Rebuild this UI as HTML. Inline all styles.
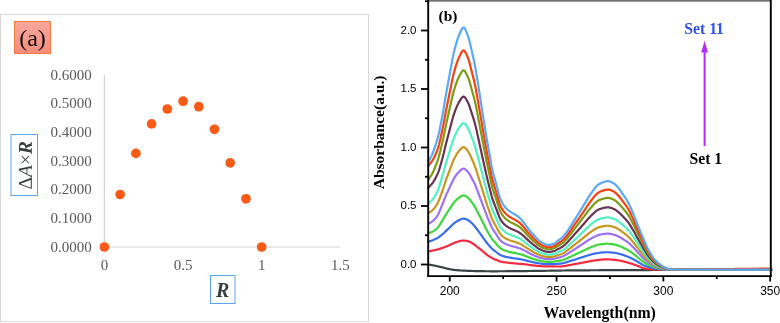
<!DOCTYPE html>
<html><head><meta charset="utf-8"><style>
html,body{margin:0;padding:0;background:#fff;}
svg{display:block;will-change:transform;}
</style></head><body>
<svg width="780" height="323" viewBox="0 0 780 323">
<defs><linearGradient id="ga" x1="0" y1="0" x2="0" y2="1"><stop offset="0" stop-color="#f9a89c"/><stop offset="1" stop-color="#f48d7c"/></linearGradient></defs>
<rect x="0" y="0" width="780" height="323" fill="#fff"/>
<!-- left panel -->
<rect x="0.5" y="14.5" width="368" height="307" fill="none" stroke="#d9d9d9" stroke-width="1"/>
<rect x="14.5" y="21.5" width="36" height="32" fill="url(#ga)" stroke="#f47a3a" stroke-width="1"/>
<text x="32.5" y="46" font-family="'Liberation Serif', serif" font-size="24" text-anchor="middle" fill="#111">(a)</text>
<g stroke="#d0d4d6" stroke-width="1.2">
<line x1="104.4" y1="75" x2="104.4" y2="247"/>
<line x1="104.4" y1="247" x2="340" y2="247"/>
</g>
<g font-family="'Liberation Serif', serif" font-size="15" fill="#595959" text-anchor="end">
<text x="91.7" y="251.7">0.0000</text>
<text x="91.7" y="223.0">0.1000</text>
<text x="91.7" y="194.3">0.2000</text>
<text x="91.7" y="165.6">0.3000</text>
<text x="91.7" y="136.9">0.4000</text>
<text x="91.7" y="108.2">0.5000</text>
<text x="91.7" y="79.5">0.6000</text>
</g>
<g font-family="'Liberation Serif', serif" font-size="15" fill="#595959" text-anchor="middle">
<text x="104.4" y="269.6">0</text>
<text x="183.1" y="269.6">0.5</text>
<text x="261.7" y="269.6">1</text>
<text x="340.4" y="269.6">1.5</text>
</g>
<g fill="#f95a16">
<circle cx="104.4" cy="247.0" r="4.85"/>
<circle cx="120.1" cy="194.5" r="4.85"/>
<circle cx="135.9" cy="153.4" r="4.85"/>
<circle cx="151.6" cy="123.9" r="4.85"/>
<circle cx="167.3" cy="109.0" r="4.85"/>
<circle cx="183.1" cy="101.2" r="4.85"/>
<circle cx="198.8" cy="106.7" r="4.85"/>
<circle cx="214.5" cy="129.3" r="4.85"/>
<circle cx="230.2" cy="162.9" r="4.85"/>
<circle cx="246.0" cy="198.8" r="4.85"/>
<circle cx="261.7" cy="247.0" r="4.85"/>
</g>
<rect x="11" y="134.5" width="26.5" height="61" fill="none" stroke="#5aa5f0" stroke-width="1"/>
<path transform="translate(31.8,189.6) rotate(-90)" fill="#363d3d" d="M11.81 0H0.75L0.74 -0.76L5.28 -12.87H7.09L11.81 -0.76ZM5.77 -11.39 1.96 -1.04H9.64Z M15.05 -0.5 14.96 0H11.47L11.57 -0.5L12.64 -0.76L19.13 -12.87H20.95L23.33 -0.76L24.52 -0.5L24.41 0H19.89L20 -0.5L21.36 -0.76L20.75 -4.45H15.72L13.77 -0.76ZM19.42 -11.5 16.15 -5.3H20.59Z M29.95 -5.79 26.67 -2.51 25.99 -3.2 29.27 -6.49 25.99 -9.75 26.7 -10.45 29.95 -7.18 33.25 -10.45 33.93 -9.77 30.65 -6.49 33.93 -3.2 33.25 -2.51Z M40.7 -5.41 39.91 -0.95 41.5 -0.7 41.39 0H35.42L35.53 -0.7L37.1 -0.95L39.01 -11.83L37.42 -12.07L37.54 -12.77H42.64Q45.13 -12.77 46.33 -11.98Q47.53 -11.19 47.53 -9.55Q47.53 -8.06 46.73 -7.07Q45.92 -6.08 44.4 -5.67L46.31 -0.95L47.71 -0.7L47.6 0H43.79L41.81 -5.41ZM41.41 -6.46Q42.97 -6.46 43.86 -7.23Q44.74 -8.01 44.74 -9.4Q44.74 -10.64 44.17 -11.18Q43.59 -11.72 42.48 -11.72H41.82L40.89 -6.46Z"/>
<rect x="210.5" y="275.5" width="24.5" height="28" fill="none" stroke="#5aa5f0" stroke-width="1"/>
<text x="222.6" y="296.6" font-family="'Liberation Serif', serif" font-size="20" font-style="italic" font-weight="bold" text-anchor="middle" fill="#363d3d">R</text>
<!-- right chart -->
<g fill="none" stroke-width="2.2" stroke-linejoin="round" stroke-linecap="round">
<path d="M428.40 264.50 L428.93 264.59 L429.47 264.68 L430.00 264.77 L430.54 264.86 L431.07 264.96 L431.60 265.06 L432.14 265.16 L432.67 265.26 L433.21 265.36 L433.74 265.46 L434.27 265.56 L434.81 265.67 L435.34 265.78 L435.88 265.89 L436.41 266.00 L436.94 266.11 L437.48 266.23 L438.01 266.34 L438.55 266.46 L439.08 266.58 L439.61 266.70 L440.15 266.82 L440.68 266.95 L441.22 267.07 L441.75 267.20 L442.28 267.34 L442.82 267.48 L443.35 267.62 L443.89 267.77 L444.42 267.91 L444.95 268.06 L445.49 268.20 L446.02 268.33 L446.56 268.47 L447.09 268.59 L447.62 268.71 L448.16 268.83 L448.69 268.94 L449.23 269.05 L449.76 269.16 L450.29 269.27 L450.83 269.38 L451.36 269.48 L451.90 269.57 L452.43 269.66 L452.96 269.74 L453.50 269.82 L454.03 269.88 L454.57 269.94 L455.10 270.00 L455.63 270.06 L456.17 270.11 L456.70 270.16 L457.24 270.21 L457.77 270.26 L458.30 270.30 L458.84 270.34 L459.37 270.38 L459.91 270.42 L460.44 270.46 L460.97 270.49 L461.51 270.52 L462.04 270.56 L462.58 270.58 L463.11 270.61 L463.64 270.64 L464.18 270.66 L464.71 270.69 L465.25 270.71 L465.78 270.74 L466.31 270.76 L466.85 270.78 L467.38 270.81 L467.92 270.83 L468.45 270.85 L468.98 270.87 L469.52 270.89 L470.05 270.91 L470.59 270.92 L471.12 270.94 L471.65 270.96 L472.19 270.97 L472.72 270.99 L473.26 271.00 L473.79 271.02 L474.32 271.03 L474.86 271.04 L475.39 271.05 L475.93 271.06 L476.46 271.07 L476.99 271.08 L477.53 271.10 L478.06 271.11 L478.60 271.12 L479.13 271.13 L479.66 271.14 L480.20 271.15 L480.73 271.16 L481.27 271.17 L481.80 271.18 L482.33 271.19 L482.87 271.20 L483.40 271.20 L483.94 271.21 L484.47 271.22 L485.00 271.23 L485.54 271.24 L486.07 271.24 L486.61 271.25 L487.14 271.26 L487.67 271.26 L488.21 271.27 L488.74 271.27 L489.28 271.27 L489.81 271.28 L490.34 271.28 L490.88 271.28 L491.41 271.28 L491.95 271.29 L492.48 271.29 L493.01 271.29 L493.55 271.29 L494.08 271.29 L494.62 271.28 L495.15 271.28 L495.68 271.28 L496.22 271.28 L496.75 271.28 L497.29 271.28 L497.82 271.28 L498.35 271.27 L498.89 271.27 L499.42 271.27 L499.96 271.27 L500.49 271.26 L501.02 271.26 L501.56 271.26 L502.09 271.25 L502.63 271.25 L503.16 271.25 L503.69 271.24 L504.23 271.24 L504.76 271.24 L505.30 271.23 L505.83 271.23 L506.36 271.22 L506.90 271.22 L507.43 271.21 L507.97 271.21 L508.50 271.21 L509.03 271.20 L509.57 271.20 L510.10 271.19 L510.64 271.19 L511.17 271.18 L511.70 271.18 L512.24 271.17 L512.77 271.17 L513.31 271.16 L513.84 271.16 L514.37 271.15 L514.91 271.15 L515.44 271.14 L515.98 271.14 L516.51 271.13 L517.04 271.12 L517.58 271.12 L518.11 271.11 L518.65 271.11 L519.18 271.10 L519.71 271.10 L520.25 271.09 L520.78 271.09 L521.32 271.08 L521.85 271.08 L522.38 271.07 L522.92 271.07 L523.45 271.06 L523.99 271.06 L524.52 271.05 L525.05 271.05 L525.59 271.04 L526.12 271.04 L526.66 271.03 L527.19 271.03 L527.72 271.02 L528.26 271.01 L528.79 271.01 L529.33 271.00 L529.86 271.00 L530.39 270.99 L530.93 270.98 L531.46 270.98 L532.00 270.97 L532.53 270.96 L533.06 270.96 L533.60 270.95 L534.13 270.94 L534.67 270.93 L535.20 270.93 L535.73 270.92 L536.27 270.91 L536.80 270.91 L537.34 270.90 L537.87 270.89 L538.40 270.88 L538.94 270.87 L539.47 270.87 L540.01 270.86 L540.54 270.85 L541.07 270.84 L541.61 270.83 L542.14 270.83 L542.68 270.82 L543.21 270.81 L543.74 270.80 L544.28 270.79 L544.81 270.78 L545.35 270.78 L545.88 270.77 L546.41 270.76 L546.95 270.75 L547.48 270.74 L548.02 270.73 L548.55 270.73 L549.08 270.72 L549.62 270.71 L550.15 270.70 L550.69 270.69 L551.22 270.68 L551.75 270.67 L552.29 270.67 L552.82 270.66 L553.36 270.65 L553.89 270.64 L554.42 270.63 L554.96 270.62 L555.49 270.62 L556.03 270.61 L556.56 270.60 L557.09 270.59 L557.63 270.58 L558.16 270.58 L558.70 270.57 L559.23 270.56 L559.76 270.55 L560.30 270.54 L560.83 270.54 L561.37 270.53 L561.90 270.52 L562.43 270.51 L562.97 270.51 L563.50 270.50 L564.04 270.49 L564.57 270.49 L565.10 270.48 L565.64 270.47 L566.17 270.47 L566.71 270.46 L567.24 270.45 L567.77 270.45 L568.31 270.44 L568.84 270.43 L569.38 270.43 L569.91 270.42 L570.44 270.42 L570.98 270.41 L571.51 270.40 L572.05 270.40 L572.58 270.39 L573.11 270.39 L573.65 270.38 L574.18 270.38 L574.72 270.37 L575.25 270.37 L575.78 270.37 L576.32 270.36 L576.85 270.36 L577.39 270.35 L577.92 270.35 L578.45 270.35 L578.99 270.34 L579.52 270.34 L580.06 270.34 L580.59 270.33 L581.12 270.33 L581.66 270.33 L582.19 270.32 L582.73 270.32 L583.26 270.32 L583.79 270.31 L584.33 270.31 L584.86 270.31 L585.40 270.30 L585.93 270.30 L586.46 270.30 L587.00 270.29 L587.53 270.29 L588.07 270.29 L588.60 270.28 L589.13 270.28 L589.67 270.28 L590.20 270.27 L590.74 270.27 L591.27 270.27 L591.80 270.27 L592.34 270.26 L592.87 270.26 L593.41 270.26 L593.94 270.25 L594.47 270.25 L595.01 270.25 L595.54 270.24 L596.08 270.24 L596.61 270.24 L597.14 270.24 L597.68 270.23 L598.21 270.23 L598.75 270.23 L599.28 270.22 L599.81 270.22 L600.35 270.22 L600.88 270.22 L601.42 270.21 L601.95 270.21 L602.48 270.21 L603.02 270.20 L603.55 270.20 L604.09 270.20 L604.62 270.20 L605.15 270.19 L605.69 270.19 L606.22 270.19 L606.76 270.19 L607.29 270.18 L607.82 270.18 L608.36 270.18 L608.89 270.18 L609.43 270.17 L609.96 270.17 L610.49 270.17 L611.03 270.17 L611.56 270.16 L612.10 270.16 L612.63 270.16 L613.16 270.16 L613.70 270.15 L614.23 270.15 L614.77 270.15 L615.30 270.15 L615.83 270.14 L616.37 270.14 L616.90 270.14 L617.44 270.14 L617.97 270.13 L618.50 270.13 L619.04 270.13 L619.57 270.13 L620.11 270.13 L620.64 270.12 L621.17 270.12 L621.71 270.12 L622.24 270.12 L622.78 270.11 L623.31 270.11 L623.84 270.11 L624.38 270.11 L624.91 270.11 L625.45 270.10 L625.98 270.10 L626.51 270.10 L627.05 270.10 L627.58 270.10 L628.12 270.09 L628.65 270.09 L629.18 270.09 L629.72 270.09 L630.25 270.09 L630.79 270.08 L631.32 270.08 L631.85 270.08 L632.39 270.08 L632.92 270.08 L633.46 270.08 L633.99 270.07 L634.52 270.07 L635.06 270.07 L635.59 270.07 L636.13 270.07 L636.66 270.07 L637.19 270.06 L637.73 270.06 L638.26 270.06 L638.80 270.06 L639.33 270.06 L639.86 270.06 L640.40 270.05 L640.93 270.05 L641.47 270.05 L642.00 270.05 L642.53 270.05 L643.07 270.05 L643.60 270.04 L644.14 270.04 L644.67 270.04 L645.20 270.04 L645.74 270.04 L646.27 270.04 L646.81 270.04 L647.34 270.03 L647.87 270.03 L648.41 270.03 L648.94 270.03 L649.48 270.03 L650.01 270.03 L650.54 270.03 L651.08 270.02 L651.61 270.02 L652.15 270.02 L652.68 270.02 L653.21 270.02 L653.75 270.02 L654.28 270.02 L654.82 270.02 L655.35 270.01 L655.88 270.01 L656.42 270.01 L656.95 270.01 L657.49 270.01 L658.02 270.01 L658.55 270.01 L659.09 270.01 L659.62 270.01 L660.16 270.00 L660.69 270.00 L661.22 270.00 L661.76 270.00 L662.29 270.00 L662.83 270.00 L663.36 270.00 L663.89 270.00 L664.43 270.00 L664.96 270.00 L665.50 270.00 L666.03 269.99 L666.56 269.99 L667.10 269.99 L667.63 269.99 L668.17 269.99 L668.70 269.99 L669.23 269.99 L669.77 269.99 L670.30 269.99 L670.84 269.99 L671.37 269.99 L671.90 269.98 L672.44 269.98 L672.97 269.98 L673.51 269.98 L674.04 269.98 L674.57 269.98 L675.11 269.98 L675.64 269.98 L676.18 269.98 L676.71 269.98 L677.24 269.98 L677.78 269.97 L678.31 269.97 L678.85 269.97 L679.38 269.97 L679.91 269.97 L680.45 269.97 L680.98 269.97 L681.52 269.97 L682.05 269.97 L682.58 269.97 L683.12 269.97 L683.65 269.96 L684.19 269.96 L684.72 269.96 L685.25 269.96 L685.79 269.96 L686.32 269.96 L686.86 269.96 L687.39 269.96 L687.92 269.96 L688.46 269.96 L688.99 269.96 L689.53 269.96 L690.06 269.95 L690.59 269.95 L691.13 269.95 L691.66 269.95 L692.20 269.95 L692.73 269.95 L693.26 269.95 L693.80 269.95 L694.33 269.95 L694.87 269.95 L695.40 269.95 L695.93 269.95 L696.47 269.94 L697.00 269.94 L697.54 269.94 L698.07 269.94 L698.60 269.94 L699.14 269.94 L699.67 269.94 L700.21 269.94 L700.74 269.94 L701.27 269.94 L701.81 269.94 L702.34 269.94 L702.88 269.94 L703.41 269.93 L703.94 269.93 L704.48 269.93 L705.01 269.93 L705.55 269.93 L706.08 269.93 L706.61 269.93 L707.15 269.93 L707.68 269.93 L708.22 269.93 L708.75 269.93 L709.28 269.93 L709.82 269.93 L710.35 269.93 L710.89 269.92 L711.42 269.92 L711.95 269.92 L712.49 269.92 L713.02 269.92 L713.56 269.92 L714.09 269.92 L714.62 269.92 L715.16 269.92 L715.69 269.92 L716.23 269.92 L716.76 269.92 L717.29 269.92 L717.83 269.92 L718.36 269.92 L718.90 269.91 L719.43 269.91 L719.96 269.91 L720.50 269.91 L721.03 269.91 L721.57 269.91 L722.10 269.91 L722.63 269.91 L723.17 269.91 L723.70 269.91 L724.24 269.91 L724.77 269.91 L725.30 269.91 L725.84 269.91 L726.37 269.91 L726.91 269.91 L727.44 269.91 L727.97 269.91 L728.51 269.90 L729.04 269.90 L729.58 269.90 L730.11 269.90 L730.64 269.90 L731.18 269.90 L731.71 269.90 L732.25 269.90 L732.78 269.90 L733.31 269.90 L733.85 269.90 L734.38 269.90 L734.92 269.90 L735.45 269.90 L735.98 269.90 L736.52 269.90 L737.05 269.90 L737.59 269.90 L738.12 269.90 L738.65 269.90 L739.19 269.90 L739.72 269.89 L740.26 269.89 L740.79 269.89 L741.32 269.89 L741.86 269.89 L742.39 269.89 L742.93 269.89 L743.46 269.89 L743.99 269.89 L744.53 269.89 L745.06 269.89 L745.60 269.89 L746.13 269.89 L746.66 269.89 L747.20 269.89 L747.73 269.89 L748.27 269.89 L748.80 269.89 L749.33 269.89 L749.87 269.89 L750.40 269.89 L750.94 269.89 L751.47 269.89 L752.00 269.89 L752.54 269.89 L753.07 269.89 L753.61 269.89 L754.14 269.89 L754.67 269.89 L755.21 269.89 L755.74 269.89 L756.28 269.88 L756.81 269.88 L757.34 269.88 L757.88 269.88 L758.41 269.88 L758.95 269.88 L759.48 269.88 L760.01 269.88 L760.55 269.88 L761.08 269.88 L761.62 269.88 L762.15 269.88 L762.68 269.88 L763.22 269.88 L763.75 269.88 L764.29 269.88 L764.82 269.88 L765.35 269.88 L765.89 269.88 L766.42 269.88 L766.96 269.88 L767.49 269.88 L768.02 269.88 L768.56 269.88 L769.09 269.88 L769.63 269.88 L770.16 269.88 L770.69 269.88 L771.23 269.88" stroke="#3a4444"/>
<path d="M428.40 251.40 L428.93 251.32 L429.47 251.23 L430.00 251.14 L430.54 251.05 L431.07 250.95 L431.60 250.84 L432.14 250.74 L432.67 250.63 L433.21 250.52 L433.74 250.40 L434.27 250.28 L434.81 250.16 L435.34 250.03 L435.88 249.90 L436.41 249.77 L436.94 249.62 L437.48 249.47 L438.01 249.32 L438.55 249.17 L439.08 249.01 L439.61 248.84 L440.15 248.67 L440.68 248.50 L441.22 248.33 L441.75 248.16 L442.28 247.98 L442.82 247.79 L443.35 247.60 L443.89 247.41 L444.42 247.21 L444.95 247.01 L445.49 246.81 L446.02 246.60 L446.56 246.38 L447.09 246.17 L447.62 245.95 L448.16 245.74 L448.69 245.52 L449.23 245.29 L449.76 245.06 L450.29 244.81 L450.83 244.55 L451.36 244.29 L451.90 244.02 L452.43 243.76 L452.96 243.50 L453.50 243.24 L454.03 243.00 L454.57 242.77 L455.10 242.56 L455.63 242.37 L456.17 242.20 L456.70 242.04 L457.24 241.86 L457.77 241.69 L458.30 241.53 L458.84 241.36 L459.37 241.21 L459.91 241.07 L460.44 240.94 L460.97 240.83 L461.51 240.75 L462.04 240.68 L462.58 240.64 L463.11 240.63 L463.64 240.64 L464.18 240.65 L464.71 240.68 L465.25 240.70 L465.78 240.74 L466.31 240.78 L466.85 240.87 L467.38 241.00 L467.92 241.17 L468.45 241.37 L468.98 241.58 L469.52 241.82 L470.05 242.05 L470.59 242.29 L471.12 242.54 L471.65 242.82 L472.19 243.14 L472.72 243.47 L473.26 243.83 L473.79 244.20 L474.32 244.60 L474.86 245.00 L475.39 245.41 L475.93 245.83 L476.46 246.26 L476.99 246.68 L477.53 247.11 L478.06 247.52 L478.60 247.93 L479.13 248.33 L479.66 248.74 L480.20 249.16 L480.73 249.58 L481.27 250.02 L481.80 250.46 L482.33 250.91 L482.87 251.36 L483.40 251.82 L483.94 252.27 L484.47 252.72 L485.00 253.17 L485.54 253.61 L486.07 254.04 L486.61 254.47 L487.14 254.88 L487.67 255.28 L488.21 255.66 L488.74 256.03 L489.28 256.38 L489.81 256.71 L490.34 257.03 L490.88 257.33 L491.41 257.61 L491.95 257.89 L492.48 258.16 L493.01 258.42 L493.55 258.67 L494.08 258.92 L494.62 259.16 L495.15 259.40 L495.68 259.63 L496.22 259.87 L496.75 260.10 L497.29 260.34 L497.82 260.57 L498.35 260.79 L498.89 260.99 L499.42 261.18 L499.96 261.34 L500.49 261.48 L501.02 261.62 L501.56 261.74 L502.09 261.85 L502.63 261.96 L503.16 262.05 L503.69 262.14 L504.23 262.23 L504.76 262.31 L505.30 262.38 L505.83 262.46 L506.36 262.53 L506.90 262.59 L507.43 262.66 L507.97 262.72 L508.50 262.78 L509.03 262.84 L509.57 262.90 L510.10 262.96 L510.64 263.01 L511.17 263.07 L511.70 263.12 L512.24 263.17 L512.77 263.22 L513.31 263.28 L513.84 263.33 L514.37 263.38 L514.91 263.43 L515.44 263.48 L515.98 263.53 L516.51 263.57 L517.04 263.61 L517.58 263.66 L518.11 263.70 L518.65 263.74 L519.18 263.78 L519.71 263.82 L520.25 263.87 L520.78 263.91 L521.32 263.95 L521.85 264.00 L522.38 264.04 L522.92 264.09 L523.45 264.14 L523.99 264.19 L524.52 264.24 L525.05 264.30 L525.59 264.36 L526.12 264.43 L526.66 264.50 L527.19 264.57 L527.72 264.65 L528.26 264.73 L528.79 264.81 L529.33 264.89 L529.86 264.97 L530.39 265.05 L530.93 265.13 L531.46 265.21 L532.00 265.29 L532.53 265.36 L533.06 265.43 L533.60 265.50 L534.13 265.56 L534.67 265.62 L535.20 265.67 L535.73 265.72 L536.27 265.77 L536.80 265.81 L537.34 265.86 L537.87 265.91 L538.40 265.95 L538.94 266.00 L539.47 266.04 L540.01 266.09 L540.54 266.13 L541.07 266.16 L541.61 266.20 L542.14 266.23 L542.68 266.26 L543.21 266.29 L543.74 266.32 L544.28 266.34 L544.81 266.35 L545.35 266.37 L545.88 266.38 L546.41 266.38 L546.95 266.39 L547.48 266.40 L548.02 266.41 L548.55 266.41 L549.08 266.42 L549.62 266.43 L550.15 266.43 L550.69 266.44 L551.22 266.44 L551.75 266.45 L552.29 266.45 L552.82 266.46 L553.36 266.46 L553.89 266.47 L554.42 266.47 L554.96 266.47 L555.49 266.48 L556.03 266.48 L556.56 266.48 L557.09 266.48 L557.63 266.49 L558.16 266.49 L558.70 266.49 L559.23 266.49 L559.76 266.49 L560.30 266.49 L560.83 266.47 L561.37 266.44 L561.90 266.39 L562.43 266.34 L562.97 266.27 L563.50 266.19 L564.04 266.11 L564.57 266.01 L565.10 265.92 L565.64 265.81 L566.17 265.71 L566.71 265.60 L567.24 265.49 L567.77 265.39 L568.31 265.28 L568.84 265.18 L569.38 265.08 L569.91 264.99 L570.44 264.90 L570.98 264.81 L571.51 264.72 L572.05 264.62 L572.58 264.53 L573.11 264.43 L573.65 264.34 L574.18 264.24 L574.72 264.14 L575.25 264.04 L575.78 263.94 L576.32 263.84 L576.85 263.74 L577.39 263.64 L577.92 263.54 L578.45 263.44 L578.99 263.34 L579.52 263.24 L580.06 263.14 L580.59 263.04 L581.12 262.94 L581.66 262.84 L582.19 262.75 L582.73 262.65 L583.26 262.55 L583.79 262.44 L584.33 262.34 L584.86 262.23 L585.40 262.12 L585.93 262.02 L586.46 261.91 L587.00 261.80 L587.53 261.69 L588.07 261.59 L588.60 261.48 L589.13 261.38 L589.67 261.27 L590.20 261.17 L590.74 261.07 L591.27 260.98 L591.80 260.88 L592.34 260.79 L592.87 260.71 L593.41 260.63 L593.94 260.55 L594.47 260.47 L595.01 260.40 L595.54 260.34 L596.08 260.27 L596.61 260.20 L597.14 260.13 L597.68 260.06 L598.21 259.99 L598.75 259.92 L599.28 259.86 L599.81 259.79 L600.35 259.73 L600.88 259.67 L601.42 259.62 L601.95 259.56 L602.48 259.52 L603.02 259.47 L603.55 259.44 L604.09 259.41 L604.62 259.38 L605.15 259.36 L605.69 259.35 L606.22 259.35 L606.76 259.36 L607.29 259.37 L607.82 259.38 L608.36 259.40 L608.89 259.42 L609.43 259.45 L609.96 259.48 L610.49 259.52 L611.03 259.55 L611.56 259.60 L612.10 259.64 L612.63 259.69 L613.16 259.73 L613.70 259.78 L614.23 259.84 L614.77 259.89 L615.30 259.94 L615.83 260.00 L616.37 260.05 L616.90 260.11 L617.44 260.18 L617.97 260.26 L618.50 260.35 L619.04 260.44 L619.57 260.54 L620.11 260.65 L620.64 260.76 L621.17 260.88 L621.71 261.00 L622.24 261.13 L622.78 261.27 L623.31 261.40 L623.84 261.54 L624.38 261.68 L624.91 261.82 L625.45 261.97 L625.98 262.11 L626.51 262.25 L627.05 262.40 L627.58 262.54 L628.12 262.69 L628.65 262.83 L629.18 262.99 L629.72 263.15 L630.25 263.31 L630.79 263.48 L631.32 263.65 L631.85 263.82 L632.39 264.00 L632.92 264.18 L633.46 264.36 L633.99 264.54 L634.52 264.72 L635.06 264.90 L635.59 265.08 L636.13 265.27 L636.66 265.47 L637.19 265.69 L637.73 265.91 L638.26 266.13 L638.80 266.36 L639.33 266.59 L639.86 266.82 L640.40 267.05 L640.93 267.26 L641.47 267.48 L642.00 267.68 L642.53 267.86 L643.07 268.03 L643.60 268.18 L644.14 268.32 L644.67 268.42 L645.20 268.51 L645.74 268.59 L646.27 268.66 L646.81 268.73 L647.34 268.80 L647.87 268.86 L648.41 268.92 L648.94 268.98 L649.48 269.03 L650.01 269.08 L650.54 269.13 L651.08 269.17 L651.61 269.21 L652.15 269.25 L652.68 269.29 L653.21 269.32 L653.75 269.36 L654.28 269.39 L654.82 269.41 L655.35 269.44 L655.88 269.47 L656.42 269.49 L656.95 269.52 L657.49 269.54 L658.02 269.57 L658.55 269.59 L659.09 269.61 L659.62 269.63 L660.16 269.65 L660.69 269.67 L661.22 269.68 L661.76 269.69 L662.29 269.70 L662.83 269.70 L663.36 269.71 L663.89 269.71 L664.43 269.71 L664.96 269.71 L665.50 269.71 L666.03 269.71 L666.56 269.71 L667.10 269.71 L667.63 269.71 L668.17 269.71 L668.70 269.71 L669.23 269.71 L669.77 269.72 L670.30 269.72 L670.84 269.72 L671.37 269.72 L671.90 269.72 L672.44 269.72 L672.97 269.72 L673.51 269.72 L674.04 269.72 L674.57 269.72 L675.11 269.72 L675.64 269.72 L676.18 269.72 L676.71 269.72 L677.24 269.72 L677.78 269.73 L678.31 269.73 L678.85 269.73 L679.38 269.73 L679.91 269.73 L680.45 269.73 L680.98 269.73 L681.52 269.73 L682.05 269.73 L682.58 269.73 L683.12 269.73 L683.65 269.73 L684.19 269.73 L684.72 269.73 L685.25 269.73 L685.79 269.73 L686.32 269.73 L686.86 269.73 L687.39 269.74 L687.92 269.74 L688.46 269.74 L688.99 269.74 L689.53 269.74 L690.06 269.74 L690.59 269.74 L691.13 269.74 L691.66 269.74 L692.20 269.74 L692.73 269.74 L693.26 269.74 L693.80 269.74 L694.33 269.74 L694.87 269.74 L695.40 269.74 L695.93 269.74 L696.47 269.74 L697.00 269.74 L697.54 269.74 L698.07 269.74 L698.60 269.74 L699.14 269.75 L699.67 269.75 L700.21 269.75 L700.74 269.75 L701.27 269.75 L701.81 269.75 L702.34 269.75 L702.88 269.75 L703.41 269.75 L703.94 269.75 L704.48 269.75 L705.01 269.75 L705.55 269.75 L706.08 269.75 L706.61 269.75 L707.15 269.75 L707.68 269.75 L708.22 269.75 L708.75 269.75 L709.28 269.75 L709.82 269.75 L710.35 269.75 L710.89 269.75 L711.42 269.75 L711.95 269.75 L712.49 269.75 L713.02 269.75 L713.56 269.75 L714.09 269.75 L714.62 269.75 L715.16 269.75 L715.69 269.75 L716.23 269.76 L716.76 269.76 L717.29 269.76 L717.83 269.76 L718.36 269.76 L718.90 269.76 L719.43 269.76 L719.96 269.76 L720.50 269.76 L721.03 269.76 L721.57 269.76 L722.10 269.76 L722.63 269.76 L723.17 269.76 L723.70 269.76 L724.24 269.76 L724.77 269.76 L725.30 269.76 L725.84 269.76 L726.37 269.76 L726.91 269.76 L727.44 269.76 L727.97 269.76 L728.51 269.76 L729.04 269.76 L729.58 269.76 L730.11 269.76 L730.64 269.76 L731.18 269.76 L731.71 269.76 L732.25 269.76 L732.78 269.76 L733.31 269.76 L733.85 269.76 L734.38 269.76 L734.92 269.76 L735.45 269.76 L735.98 269.76 L736.52 269.76 L737.05 269.76 L737.59 269.76 L738.12 269.76 L738.65 269.76 L739.19 269.76 L739.72 269.76 L740.26 269.76 L740.79 269.76 L741.32 269.76 L741.86 269.76 L742.39 269.76 L742.93 269.76 L743.46 269.76 L743.99 269.76 L744.53 269.76 L745.06 269.76 L745.60 269.76 L746.13 269.76 L746.66 269.76 L747.20 269.76 L747.73 269.76 L748.27 269.76 L748.80 269.76 L749.33 269.76 L749.87 269.76 L750.40 269.76 L750.94 269.76 L751.47 269.76 L752.00 269.76 L752.54 269.76 L753.07 269.76 L753.61 269.76 L754.14 269.76 L754.67 269.76 L755.21 269.76 L755.74 269.76 L756.28 269.76 L756.81 269.76 L757.34 269.76 L757.88 269.76 L758.41 269.76 L758.95 269.76 L759.48 269.76 L760.01 269.76 L760.55 269.76 L761.08 269.76 L761.62 269.76 L762.15 269.76 L762.68 269.76 L763.22 269.76 L763.75 269.76 L764.29 269.76 L764.82 269.76 L765.35 269.76 L765.89 269.76 L766.42 269.76 L766.96 269.76 L767.49 269.76 L768.02 269.76 L768.56 269.76 L769.09 269.76 L769.63 269.76 L770.16 269.76 L770.69 269.76 L771.23 269.76" stroke="#f52a40"/>
<path d="M428.40 241.67 L428.93 241.50 L429.47 241.33 L430.00 241.17 L430.54 241.00 L431.07 240.84 L431.60 240.66 L432.14 240.47 L432.67 240.27 L433.21 240.06 L433.74 239.84 L434.27 239.61 L434.81 239.36 L435.34 239.11 L435.88 238.84 L436.41 238.57 L436.94 238.28 L437.48 237.98 L438.01 237.67 L438.55 237.33 L439.08 236.96 L439.61 236.56 L440.15 236.14 L440.68 235.71 L441.22 235.28 L441.75 234.84 L442.28 234.39 L442.82 233.93 L443.35 233.46 L443.89 232.97 L444.42 232.46 L444.95 231.94 L445.49 231.41 L446.02 230.90 L446.56 230.40 L447.09 229.91 L447.62 229.42 L448.16 228.93 L448.69 228.43 L449.23 227.93 L449.76 227.41 L450.29 226.88 L450.83 226.35 L451.36 225.83 L451.90 225.29 L452.43 224.76 L452.96 224.25 L453.50 223.76 L454.03 223.31 L454.57 222.89 L455.10 222.48 L455.63 222.11 L456.17 221.76 L456.70 221.42 L457.24 221.09 L457.77 220.77 L458.30 220.47 L458.84 220.19 L459.37 219.92 L459.91 219.66 L460.44 219.42 L460.97 219.19 L461.51 219.00 L462.04 218.85 L462.58 218.74 L463.11 218.69 L463.64 218.68 L464.18 218.72 L464.71 218.81 L465.25 218.92 L465.78 219.07 L466.31 219.24 L466.85 219.46 L467.38 219.72 L467.92 220.02 L468.45 220.36 L468.98 220.74 L469.52 221.16 L470.05 221.61 L470.59 222.06 L471.12 222.52 L471.65 223.02 L472.19 223.53 L472.72 224.07 L473.26 224.63 L473.79 225.22 L474.32 225.83 L474.86 226.46 L475.39 227.11 L475.93 227.79 L476.46 228.50 L476.99 229.23 L477.53 229.96 L478.06 230.68 L478.60 231.40 L479.13 232.11 L479.66 232.83 L480.20 233.56 L480.73 234.30 L481.27 235.05 L481.80 235.79 L482.33 236.54 L482.87 237.30 L483.40 238.05 L483.94 238.80 L484.47 239.54 L485.00 240.29 L485.54 241.03 L486.07 241.76 L486.61 242.48 L487.14 243.18 L487.67 243.85 L488.21 244.50 L488.74 245.13 L489.28 245.75 L489.81 246.35 L490.34 246.94 L490.88 247.53 L491.41 248.10 L491.95 248.63 L492.48 249.12 L493.01 249.58 L493.55 250.01 L494.08 250.43 L494.62 250.84 L495.15 251.25 L495.68 251.65 L496.22 252.07 L496.75 252.49 L497.29 252.91 L497.82 253.33 L498.35 253.72 L498.89 254.10 L499.42 254.46 L499.96 254.79 L500.49 255.07 L501.02 255.31 L501.56 255.53 L502.09 255.74 L502.63 255.93 L503.16 256.11 L503.69 256.28 L504.23 256.43 L504.76 256.57 L505.30 256.71 L505.83 256.84 L506.36 256.96 L506.90 257.07 L507.43 257.18 L507.97 257.29 L508.50 257.39 L509.03 257.49 L509.57 257.58 L510.10 257.67 L510.64 257.76 L511.17 257.84 L511.70 257.92 L512.24 258.00 L512.77 258.08 L513.31 258.15 L513.84 258.23 L514.37 258.31 L514.91 258.39 L515.44 258.47 L515.98 258.55 L516.51 258.62 L517.04 258.70 L517.58 258.78 L518.11 258.85 L518.65 258.93 L519.18 259.02 L519.71 259.10 L520.25 259.20 L520.78 259.29 L521.32 259.40 L521.85 259.50 L522.38 259.61 L522.92 259.72 L523.45 259.83 L523.99 259.95 L524.52 260.07 L525.05 260.19 L525.59 260.32 L526.12 260.46 L526.66 260.60 L527.19 260.74 L527.72 260.88 L528.26 261.02 L528.79 261.16 L529.33 261.30 L529.86 261.44 L530.39 261.58 L530.93 261.72 L531.46 261.85 L532.00 261.98 L532.53 262.11 L533.06 262.23 L533.60 262.35 L534.13 262.47 L534.67 262.58 L535.20 262.68 L535.73 262.78 L536.27 262.88 L536.80 262.99 L537.34 263.09 L537.87 263.18 L538.40 263.28 L538.94 263.37 L539.47 263.45 L540.01 263.53 L540.54 263.61 L541.07 263.68 L541.61 263.75 L542.14 263.81 L542.68 263.87 L543.21 263.93 L543.74 263.97 L544.28 264.01 L544.81 264.05 L545.35 264.08 L545.88 264.11 L546.41 264.14 L546.95 264.16 L547.48 264.18 L548.02 264.19 L548.55 264.20 L549.08 264.21 L549.62 264.21 L550.15 264.21 L550.69 264.20 L551.22 264.19 L551.75 264.18 L552.29 264.17 L552.82 264.15 L553.36 264.14 L553.89 264.12 L554.42 264.09 L554.96 264.06 L555.49 264.03 L556.03 263.99 L556.56 263.94 L557.09 263.90 L557.63 263.86 L558.16 263.82 L558.70 263.78 L559.23 263.74 L559.76 263.70 L560.30 263.65 L560.83 263.60 L561.37 263.53 L561.90 263.44 L562.43 263.34 L562.97 263.23 L563.50 263.10 L564.04 262.97 L564.57 262.82 L565.10 262.67 L565.64 262.50 L566.17 262.34 L566.71 262.17 L567.24 261.99 L567.77 261.82 L568.31 261.64 L568.84 261.47 L569.38 261.29 L569.91 261.13 L570.44 260.96 L570.98 260.79 L571.51 260.63 L572.05 260.46 L572.58 260.29 L573.11 260.12 L573.65 259.94 L574.18 259.77 L574.72 259.60 L575.25 259.43 L575.78 259.26 L576.32 259.10 L576.85 258.93 L577.39 258.76 L577.92 258.59 L578.45 258.41 L578.99 258.24 L579.52 258.07 L580.06 257.90 L580.59 257.74 L581.12 257.57 L581.66 257.40 L582.19 257.24 L582.73 257.07 L583.26 256.90 L583.79 256.74 L584.33 256.57 L584.86 256.39 L585.40 256.22 L585.93 256.05 L586.46 255.87 L587.00 255.70 L587.53 255.53 L588.07 255.36 L588.60 255.20 L589.13 255.04 L589.67 254.88 L590.20 254.73 L590.74 254.58 L591.27 254.44 L591.80 254.30 L592.34 254.16 L592.87 254.03 L593.41 253.90 L593.94 253.77 L594.47 253.66 L595.01 253.54 L595.54 253.44 L596.08 253.33 L596.61 253.23 L597.14 253.14 L597.68 253.04 L598.21 252.96 L598.75 252.88 L599.28 252.81 L599.81 252.74 L600.35 252.67 L600.88 252.61 L601.42 252.55 L601.95 252.50 L602.48 252.45 L603.02 252.40 L603.55 252.36 L604.09 252.33 L604.62 252.30 L605.15 252.28 L605.69 252.26 L606.22 252.24 L606.76 252.24 L607.29 252.24 L607.82 252.25 L608.36 252.27 L608.89 252.30 L609.43 252.33 L609.96 252.37 L610.49 252.42 L611.03 252.47 L611.56 252.52 L612.10 252.58 L612.63 252.64 L613.16 252.70 L613.70 252.77 L614.23 252.83 L614.77 252.90 L615.30 252.98 L615.83 253.07 L616.37 253.16 L616.90 253.25 L617.44 253.36 L617.97 253.47 L618.50 253.59 L619.04 253.72 L619.57 253.86 L620.11 254.01 L620.64 254.17 L621.17 254.33 L621.71 254.50 L622.24 254.67 L622.78 254.85 L623.31 255.03 L623.84 255.21 L624.38 255.40 L624.91 255.59 L625.45 255.78 L625.98 255.97 L626.51 256.17 L627.05 256.37 L627.58 256.58 L628.12 256.78 L628.65 257.01 L629.18 257.24 L629.72 257.48 L630.25 257.73 L630.79 257.99 L631.32 258.25 L631.85 258.53 L632.39 258.80 L632.92 259.08 L633.46 259.36 L633.99 259.65 L634.52 259.94 L635.06 260.23 L635.59 260.53 L636.13 260.83 L636.66 261.14 L637.19 261.46 L637.73 261.78 L638.26 262.11 L638.80 262.45 L639.33 262.78 L639.86 263.11 L640.40 263.44 L640.93 263.77 L641.47 264.08 L642.00 264.39 L642.53 264.69 L643.07 264.97 L643.60 265.23 L644.14 265.48 L644.67 265.70 L645.20 265.90 L645.74 266.10 L646.27 266.29 L646.81 266.48 L647.34 266.65 L647.87 266.82 L648.41 266.98 L648.94 267.13 L649.48 267.27 L650.01 267.41 L650.54 267.54 L651.08 267.67 L651.61 267.79 L652.15 267.91 L652.68 268.02 L653.21 268.13 L653.75 268.23 L654.28 268.32 L654.82 268.41 L655.35 268.49 L655.88 268.58 L656.42 268.65 L656.95 268.73 L657.49 268.81 L658.02 268.88 L658.55 268.94 L659.09 269.01 L659.62 269.07 L660.16 269.13 L660.69 269.18 L661.22 269.24 L661.76 269.28 L662.29 269.33 L662.83 269.37 L663.36 269.40 L663.89 269.43 L664.43 269.46 L664.96 269.49 L665.50 269.51 L666.03 269.54 L666.56 269.57 L667.10 269.59 L667.63 269.61 L668.17 269.63 L668.70 269.65 L669.23 269.66 L669.77 269.67 L670.30 269.67 L670.84 269.68 L671.37 269.68 L671.90 269.68 L672.44 269.69 L672.97 269.69 L673.51 269.69 L674.04 269.69 L674.57 269.69 L675.11 269.70 L675.64 269.70 L676.18 269.70 L676.71 269.70 L677.24 269.70 L677.78 269.70 L678.31 269.71 L678.85 269.71 L679.38 269.71 L679.91 269.71 L680.45 269.71 L680.98 269.71 L681.52 269.71 L682.05 269.71 L682.58 269.72 L683.12 269.72 L683.65 269.72 L684.19 269.72 L684.72 269.72 L685.25 269.72 L685.79 269.72 L686.32 269.72 L686.86 269.72 L687.39 269.72 L687.92 269.72 L688.46 269.72 L688.99 269.72 L689.53 269.72 L690.06 269.72 L690.59 269.72 L691.13 269.72 L691.66 269.72 L692.20 269.73 L692.73 269.73 L693.26 269.73 L693.80 269.73 L694.33 269.73 L694.87 269.73 L695.40 269.73 L695.93 269.73 L696.47 269.73 L697.00 269.73 L697.54 269.73 L698.07 269.73 L698.60 269.73 L699.14 269.73 L699.67 269.73 L700.21 269.73 L700.74 269.73 L701.27 269.73 L701.81 269.73 L702.34 269.73 L702.88 269.73 L703.41 269.73 L703.94 269.73 L704.48 269.74 L705.01 269.74 L705.55 269.74 L706.08 269.74 L706.61 269.74 L707.15 269.74 L707.68 269.74 L708.22 269.74 L708.75 269.74 L709.28 269.74 L709.82 269.74 L710.35 269.74 L710.89 269.74 L711.42 269.74 L711.95 269.74 L712.49 269.74 L713.02 269.74 L713.56 269.74 L714.09 269.74 L714.62 269.74 L715.16 269.74 L715.69 269.74 L716.23 269.74 L716.76 269.74 L717.29 269.74 L717.83 269.74 L718.36 269.74 L718.90 269.74 L719.43 269.74 L719.96 269.74 L720.50 269.74 L721.03 269.74 L721.57 269.74 L722.10 269.74 L722.63 269.74 L723.17 269.75 L723.70 269.75 L724.24 269.75 L724.77 269.75 L725.30 269.75 L725.84 269.75 L726.37 269.75 L726.91 269.75 L727.44 269.75 L727.97 269.75 L728.51 269.75 L729.04 269.75 L729.58 269.75 L730.11 269.75 L730.64 269.75 L731.18 269.75 L731.71 269.75 L732.25 269.75 L732.78 269.75 L733.31 269.75 L733.85 269.75 L734.38 269.75 L734.92 269.75 L735.45 269.75 L735.98 269.75 L736.52 269.75 L737.05 269.75 L737.59 269.75 L738.12 269.75 L738.65 269.75 L739.19 269.75 L739.72 269.75 L740.26 269.75 L740.79 269.75 L741.32 269.75 L741.86 269.75 L742.39 269.75 L742.93 269.75 L743.46 269.75 L743.99 269.75 L744.53 269.75 L745.06 269.75 L745.60 269.75 L746.13 269.75 L746.66 269.75 L747.20 269.75 L747.73 269.75 L748.27 269.75 L748.80 269.75 L749.33 269.75 L749.87 269.75 L750.40 269.75 L750.94 269.75 L751.47 269.75 L752.00 269.75 L752.54 269.75 L753.07 269.75 L753.61 269.75 L754.14 269.75 L754.67 269.75 L755.21 269.75 L755.74 269.75 L756.28 269.75 L756.81 269.75 L757.34 269.75 L757.88 269.75 L758.41 269.75 L758.95 269.75 L759.48 269.75 L760.01 269.75 L760.55 269.75 L761.08 269.75 L761.62 269.75 L762.15 269.75 L762.68 269.75 L763.22 269.75 L763.75 269.75 L764.29 269.75 L764.82 269.75 L765.35 269.75 L765.89 269.75 L766.42 269.75 L766.96 269.75 L767.49 269.75 L768.02 269.75 L768.56 269.75 L769.09 269.75 L769.63 269.75 L770.16 269.75 L770.69 269.75 L771.23 269.75" stroke="#3a6ef0"/>
<path d="M428.40 233.30 L428.93 233.08 L429.47 232.85 L430.00 232.63 L430.54 232.41 L431.07 232.20 L431.60 231.98 L432.14 231.74 L432.67 231.47 L433.21 231.19 L433.74 230.89 L434.27 230.57 L434.81 230.21 L435.34 229.83 L435.88 229.40 L436.41 228.94 L436.94 228.45 L437.48 227.90 L438.01 227.30 L438.55 226.63 L439.08 225.88 L439.61 225.07 L440.15 224.21 L440.68 223.33 L441.22 222.45 L441.75 221.58 L442.28 220.70 L442.82 219.82 L443.35 218.93 L443.89 218.03 L444.42 217.11 L444.95 216.18 L445.49 215.26 L446.02 214.39 L446.56 213.56 L447.09 212.76 L447.62 211.96 L448.16 211.17 L448.69 210.36 L449.23 209.55 L449.76 208.74 L450.29 207.92 L450.83 207.10 L451.36 206.29 L451.90 205.47 L452.43 204.66 L452.96 203.88 L453.50 203.15 L454.03 202.48 L454.57 201.84 L455.10 201.24 L455.63 200.66 L456.17 200.12 L456.70 199.60 L457.24 199.11 L457.77 198.63 L458.30 198.19 L458.84 197.78 L459.37 197.39 L459.91 197.01 L460.44 196.64 L460.97 196.30 L461.51 195.99 L462.04 195.74 L462.58 195.56 L463.11 195.46 L463.64 195.45 L464.18 195.52 L464.71 195.66 L465.25 195.87 L465.78 196.14 L466.31 196.44 L466.85 196.80 L467.38 197.21 L467.92 197.63 L468.45 198.13 L468.98 198.69 L469.52 199.31 L470.05 199.97 L470.59 200.64 L471.12 201.34 L471.65 202.06 L472.19 202.78 L472.72 203.54 L473.26 204.32 L473.79 205.13 L474.32 205.97 L474.86 206.84 L475.39 207.75 L475.93 208.70 L476.46 209.71 L476.99 210.77 L477.53 211.82 L478.06 212.86 L478.60 213.91 L479.13 214.95 L479.66 216.00 L480.20 217.06 L480.73 218.13 L481.27 219.20 L481.80 220.27 L482.33 221.34 L482.87 222.41 L483.40 223.47 L483.94 224.54 L484.47 225.60 L485.00 226.66 L485.54 227.72 L486.07 228.77 L486.61 229.80 L487.14 230.79 L487.67 231.75 L488.21 232.68 L488.74 233.59 L489.28 234.49 L489.81 235.38 L490.34 236.27 L490.88 237.16 L491.41 238.02 L491.95 238.82 L492.48 239.55 L493.01 240.22 L493.55 240.85 L494.08 241.45 L494.62 242.03 L495.15 242.62 L495.68 243.21 L496.22 243.82 L496.75 244.44 L497.29 245.06 L497.82 245.66 L498.35 246.24 L498.89 246.81 L499.42 247.36 L499.96 247.85 L500.49 248.28 L501.02 248.64 L501.56 248.97 L502.09 249.28 L502.63 249.56 L503.16 249.82 L503.69 250.07 L504.23 250.29 L504.76 250.50 L505.30 250.70 L505.83 250.89 L506.36 251.06 L506.90 251.23 L507.43 251.39 L507.97 251.54 L508.50 251.68 L509.03 251.82 L509.57 251.95 L510.10 252.08 L510.64 252.20 L511.17 252.31 L511.70 252.42 L512.24 252.52 L512.77 252.63 L513.31 252.73 L513.84 252.84 L514.37 252.95 L514.91 253.06 L515.44 253.17 L515.98 253.28 L516.51 253.39 L517.04 253.50 L517.58 253.61 L518.11 253.73 L518.65 253.85 L519.18 253.97 L519.71 254.11 L520.25 254.25 L520.78 254.41 L521.32 254.57 L521.85 254.75 L522.38 254.92 L522.92 255.10 L523.45 255.28 L523.99 255.46 L524.52 255.65 L525.05 255.84 L525.59 256.05 L526.12 256.25 L526.66 256.46 L527.19 256.68 L527.72 256.89 L528.26 257.10 L528.79 257.30 L529.33 257.50 L529.86 257.70 L530.39 257.90 L530.93 258.10 L531.46 258.29 L532.00 258.48 L532.53 258.66 L533.06 258.84 L533.60 259.02 L534.13 259.19 L534.67 259.36 L535.20 259.52 L535.73 259.68 L536.27 259.84 L536.80 259.99 L537.34 260.15 L537.87 260.30 L538.40 260.45 L538.94 260.58 L539.47 260.71 L540.01 260.83 L540.54 260.94 L541.07 261.05 L541.61 261.15 L542.14 261.25 L542.68 261.34 L543.21 261.42 L543.74 261.49 L544.28 261.56 L544.81 261.61 L545.35 261.66 L545.88 261.71 L546.41 261.76 L546.95 261.80 L547.48 261.83 L548.02 261.85 L548.55 261.86 L549.08 261.87 L549.62 261.86 L550.15 261.85 L550.69 261.83 L551.22 261.81 L551.75 261.78 L552.29 261.75 L552.82 261.71 L553.36 261.67 L553.89 261.63 L554.42 261.58 L554.96 261.51 L555.49 261.43 L556.03 261.35 L556.56 261.26 L557.09 261.17 L557.63 261.08 L558.16 260.99 L558.70 260.91 L559.23 260.82 L559.76 260.74 L560.30 260.66 L560.83 260.56 L561.37 260.44 L561.90 260.31 L562.43 260.17 L562.97 260.01 L563.50 259.83 L564.04 259.64 L564.57 259.43 L565.10 259.22 L565.64 258.99 L566.17 258.76 L566.71 258.52 L567.24 258.28 L567.77 258.03 L568.31 257.78 L568.84 257.52 L569.38 257.27 L569.91 257.02 L570.44 256.77 L570.98 256.52 L571.51 256.27 L572.05 256.02 L572.58 255.76 L573.11 255.51 L573.65 255.25 L574.18 255.00 L574.72 254.75 L575.25 254.50 L575.78 254.25 L576.32 254.00 L576.85 253.75 L577.39 253.50 L577.92 253.25 L578.45 253.00 L578.99 252.75 L579.52 252.49 L580.06 252.24 L580.59 251.99 L581.12 251.74 L581.66 251.49 L582.19 251.24 L582.73 250.99 L583.26 250.74 L583.79 250.49 L584.33 250.23 L584.86 249.98 L585.40 249.72 L585.93 249.46 L586.46 249.20 L587.00 248.94 L587.53 248.68 L588.07 248.43 L588.60 248.18 L589.13 247.94 L589.67 247.70 L590.20 247.48 L590.74 247.26 L591.27 247.04 L591.80 246.83 L592.34 246.62 L592.87 246.42 L593.41 246.21 L593.94 246.02 L594.47 245.83 L595.01 245.65 L595.54 245.48 L596.08 245.31 L596.61 245.15 L597.14 245.01 L597.68 244.87 L598.21 244.75 L598.75 244.64 L599.28 244.54 L599.81 244.44 L600.35 244.35 L600.88 244.27 L601.42 244.19 L601.95 244.12 L602.48 244.05 L603.02 243.99 L603.55 243.93 L604.09 243.88 L604.62 243.84 L605.15 243.80 L605.69 243.77 L606.22 243.74 L606.76 243.72 L607.29 243.71 L607.82 243.72 L608.36 243.74 L608.89 243.77 L609.43 243.81 L609.96 243.87 L610.49 243.93 L611.03 244.01 L611.56 244.08 L612.10 244.17 L612.63 244.25 L613.16 244.34 L613.70 244.43 L614.23 244.53 L614.77 244.64 L615.30 244.77 L615.83 244.90 L616.37 245.05 L616.90 245.20 L617.44 245.37 L617.97 245.54 L618.50 245.72 L619.04 245.91 L619.57 246.11 L620.11 246.32 L620.64 246.55 L621.17 246.78 L621.71 247.02 L622.24 247.27 L622.78 247.52 L623.31 247.77 L623.84 248.03 L624.38 248.28 L624.91 248.54 L625.45 248.80 L625.98 249.07 L626.51 249.34 L627.05 249.63 L627.58 249.92 L628.12 250.22 L628.65 250.53 L629.18 250.86 L629.72 251.21 L630.25 251.57 L630.79 251.94 L631.32 252.32 L631.85 252.71 L632.39 253.11 L632.92 253.50 L633.46 253.90 L633.99 254.31 L634.52 254.73 L635.06 255.15 L635.59 255.58 L636.13 256.01 L636.66 256.45 L637.19 256.89 L637.73 257.33 L638.26 257.78 L638.80 258.23 L639.33 258.68 L639.86 259.12 L640.40 259.57 L640.93 260.01 L641.47 260.45 L642.00 260.87 L642.53 261.29 L643.07 261.69 L643.60 262.08 L644.14 262.44 L644.67 262.79 L645.20 263.12 L645.74 263.45 L646.27 263.77 L646.81 264.07 L647.34 264.37 L647.87 264.64 L648.41 264.91 L648.94 265.16 L649.48 265.40 L650.01 265.63 L650.54 265.85 L651.08 266.07 L651.61 266.27 L652.15 266.48 L652.68 266.67 L653.21 266.85 L653.75 267.03 L654.28 267.19 L654.82 267.34 L655.35 267.49 L655.88 267.63 L656.42 267.77 L656.95 267.90 L657.49 268.02 L658.02 268.14 L658.55 268.26 L659.09 268.37 L659.62 268.47 L660.16 268.57 L660.69 268.67 L661.22 268.77 L661.76 268.85 L662.29 268.94 L662.83 269.01 L663.36 269.08 L663.89 269.14 L664.43 269.20 L664.96 269.25 L665.50 269.31 L666.03 269.36 L666.56 269.42 L667.10 269.47 L667.63 269.51 L668.17 269.55 L668.70 269.58 L669.23 269.61 L669.77 269.62 L670.30 269.63 L670.84 269.64 L671.37 269.64 L671.90 269.65 L672.44 269.65 L672.97 269.65 L673.51 269.66 L674.04 269.66 L674.57 269.67 L675.11 269.67 L675.64 269.67 L676.18 269.68 L676.71 269.68 L677.24 269.68 L677.78 269.68 L678.31 269.69 L678.85 269.69 L679.38 269.69 L679.91 269.69 L680.45 269.69 L680.98 269.70 L681.52 269.70 L682.05 269.70 L682.58 269.70 L683.12 269.70 L683.65 269.70 L684.19 269.70 L684.72 269.70 L685.25 269.70 L685.79 269.70 L686.32 269.70 L686.86 269.70 L687.39 269.71 L687.92 269.71 L688.46 269.71 L688.99 269.71 L689.53 269.71 L690.06 269.71 L690.59 269.71 L691.13 269.71 L691.66 269.71 L692.20 269.71 L692.73 269.71 L693.26 269.71 L693.80 269.71 L694.33 269.71 L694.87 269.71 L695.40 269.71 L695.93 269.71 L696.47 269.71 L697.00 269.71 L697.54 269.72 L698.07 269.72 L698.60 269.72 L699.14 269.72 L699.67 269.72 L700.21 269.72 L700.74 269.72 L701.27 269.72 L701.81 269.72 L702.34 269.72 L702.88 269.72 L703.41 269.72 L703.94 269.72 L704.48 269.72 L705.01 269.72 L705.55 269.72 L706.08 269.72 L706.61 269.72 L707.15 269.72 L707.68 269.72 L708.22 269.72 L708.75 269.72 L709.28 269.72 L709.82 269.72 L710.35 269.72 L710.89 269.73 L711.42 269.73 L711.95 269.73 L712.49 269.73 L713.02 269.73 L713.56 269.73 L714.09 269.73 L714.62 269.73 L715.16 269.73 L715.69 269.73 L716.23 269.73 L716.76 269.73 L717.29 269.73 L717.83 269.73 L718.36 269.73 L718.90 269.73 L719.43 269.73 L719.96 269.73 L720.50 269.73 L721.03 269.73 L721.57 269.73 L722.10 269.73 L722.63 269.73 L723.17 269.73 L723.70 269.73 L724.24 269.73 L724.77 269.73 L725.30 269.73 L725.84 269.73 L726.37 269.73 L726.91 269.73 L727.44 269.73 L727.97 269.73 L728.51 269.73 L729.04 269.73 L729.58 269.73 L730.11 269.73 L730.64 269.73 L731.18 269.73 L731.71 269.73 L732.25 269.74 L732.78 269.74 L733.31 269.74 L733.85 269.74 L734.38 269.74 L734.92 269.74 L735.45 269.74 L735.98 269.74 L736.52 269.74 L737.05 269.74 L737.59 269.74 L738.12 269.74 L738.65 269.74 L739.19 269.74 L739.72 269.74 L740.26 269.74 L740.79 269.74 L741.32 269.74 L741.86 269.74 L742.39 269.74 L742.93 269.74 L743.46 269.74 L743.99 269.74 L744.53 269.74 L745.06 269.74 L745.60 269.74 L746.13 269.74 L746.66 269.74 L747.20 269.74 L747.73 269.74 L748.27 269.74 L748.80 269.74 L749.33 269.74 L749.87 269.74 L750.40 269.74 L750.94 269.74 L751.47 269.74 L752.00 269.74 L752.54 269.74 L753.07 269.74 L753.61 269.74 L754.14 269.74 L754.67 269.74 L755.21 269.74 L755.74 269.74 L756.28 269.74 L756.81 269.74 L757.34 269.74 L757.88 269.74 L758.41 269.74 L758.95 269.74 L759.48 269.74 L760.01 269.74 L760.55 269.74 L761.08 269.74 L761.62 269.74 L762.15 269.74 L762.68 269.74 L763.22 269.74 L763.75 269.74 L764.29 269.74 L764.82 269.74 L765.35 269.74 L765.89 269.74 L766.42 269.74 L766.96 269.74 L767.49 269.74 L768.02 269.74 L768.56 269.74 L769.09 269.74 L769.63 269.74 L770.16 269.74 L770.69 269.74 L771.23 269.74" stroke="#3cd83c"/>
<path d="M428.40 223.87 L428.93 223.55 L429.47 223.23 L430.00 222.90 L430.54 222.57 L431.07 222.25 L431.60 221.90 L432.14 221.51 L432.67 221.08 L433.21 220.63 L433.74 220.15 L434.27 219.64 L434.81 219.08 L435.34 218.46 L435.88 217.80 L436.41 217.09 L436.94 216.33 L437.48 215.50 L438.01 214.58 L438.55 213.57 L439.08 212.44 L439.61 211.20 L440.15 209.90 L440.68 208.57 L441.22 207.25 L441.75 205.94 L442.28 204.63 L442.82 203.32 L443.35 202.00 L443.89 200.67 L444.42 199.31 L444.95 197.94 L445.49 196.61 L446.02 195.34 L446.56 194.14 L447.09 192.98 L447.62 191.84 L448.16 190.70 L448.69 189.55 L449.23 188.40 L449.76 187.24 L450.29 186.08 L450.83 184.93 L451.36 183.80 L451.90 182.66 L452.43 181.52 L452.96 180.43 L453.50 179.41 L454.03 178.49 L454.57 177.61 L455.10 176.77 L455.63 175.97 L456.17 175.21 L456.70 174.48 L457.24 173.79 L457.77 173.14 L458.30 172.53 L458.84 171.98 L459.37 171.46 L459.91 170.93 L460.44 170.41 L460.97 169.93 L461.51 169.50 L462.04 169.14 L462.58 168.88 L463.11 168.72 L463.64 168.69 L464.18 168.79 L464.71 169.02 L465.25 169.34 L465.78 169.74 L466.31 170.20 L466.85 170.72 L467.38 171.28 L467.92 171.86 L468.45 172.53 L468.98 173.30 L469.52 174.15 L470.05 175.05 L470.59 175.99 L471.12 176.95 L471.65 177.92 L472.19 178.90 L472.72 179.90 L473.26 180.93 L473.79 182.00 L474.32 183.10 L474.86 184.25 L475.39 185.45 L475.93 186.71 L476.46 188.08 L476.99 189.51 L477.53 190.93 L478.06 192.35 L478.60 193.77 L479.13 195.19 L479.66 196.62 L480.20 198.06 L480.73 199.51 L481.27 200.95 L481.80 202.40 L482.33 203.84 L482.87 205.27 L483.40 206.70 L483.94 208.12 L484.47 209.54 L485.00 210.97 L485.54 212.40 L486.07 213.81 L486.61 215.19 L487.14 216.53 L487.67 217.82 L488.21 219.08 L488.74 220.31 L489.28 221.53 L489.81 222.75 L490.34 223.99 L490.88 225.23 L491.41 226.42 L491.95 227.54 L492.48 228.53 L493.01 229.44 L493.55 230.29 L494.08 231.10 L494.62 231.90 L495.15 232.68 L495.68 233.49 L496.22 234.32 L496.75 235.17 L497.29 236.01 L497.82 236.84 L498.35 237.63 L498.89 238.41 L499.42 239.17 L499.96 239.87 L500.49 240.46 L501.02 240.95 L501.56 241.41 L502.09 241.83 L502.63 242.22 L503.16 242.58 L503.69 242.92 L504.23 243.23 L504.76 243.52 L505.30 243.79 L505.83 244.04 L506.36 244.28 L506.90 244.51 L507.43 244.72 L507.97 244.92 L508.50 245.11 L509.03 245.29 L509.57 245.47 L510.10 245.64 L510.64 245.79 L511.17 245.94 L511.70 246.08 L512.24 246.22 L512.77 246.35 L513.31 246.49 L513.84 246.62 L514.37 246.77 L514.91 246.92 L515.44 247.06 L515.98 247.21 L516.51 247.36 L517.04 247.51 L517.58 247.66 L518.11 247.82 L518.65 247.99 L519.18 248.17 L519.71 248.36 L520.25 248.56 L520.78 248.79 L521.32 249.02 L521.85 249.27 L522.38 249.52 L522.92 249.78 L523.45 250.04 L523.99 250.29 L524.52 250.56 L525.05 250.84 L525.59 251.12 L526.12 251.41 L526.66 251.71 L527.19 252.00 L527.72 252.29 L528.26 252.58 L528.79 252.86 L529.33 253.13 L529.86 253.40 L530.39 253.67 L530.93 253.93 L531.46 254.19 L532.00 254.45 L532.53 254.70 L533.06 254.94 L533.60 255.18 L534.13 255.42 L534.67 255.65 L535.20 255.87 L535.73 256.10 L536.27 256.32 L536.80 256.55 L537.34 256.77 L537.87 256.98 L538.40 257.19 L538.94 257.38 L539.47 257.55 L540.01 257.71 L540.54 257.87 L541.07 258.02 L541.61 258.17 L542.14 258.30 L542.68 258.42 L543.21 258.54 L543.74 258.64 L544.28 258.72 L544.81 258.80 L545.35 258.88 L545.88 258.95 L546.41 259.02 L546.95 259.07 L547.48 259.12 L548.02 259.15 L548.55 259.17 L549.08 259.17 L549.62 259.16 L550.15 259.14 L550.69 259.10 L551.22 259.06 L551.75 259.01 L552.29 258.96 L552.82 258.90 L553.36 258.84 L553.89 258.77 L554.42 258.68 L554.96 258.58 L555.49 258.45 L556.03 258.31 L556.56 258.17 L557.09 258.02 L557.63 257.87 L558.16 257.73 L558.70 257.60 L559.23 257.47 L559.76 257.34 L560.30 257.20 L560.83 257.05 L561.37 256.89 L561.90 256.71 L562.43 256.51 L562.97 256.29 L563.50 256.06 L564.04 255.80 L564.57 255.53 L565.10 255.25 L565.64 254.95 L566.17 254.64 L566.71 254.32 L567.24 253.99 L567.77 253.66 L568.31 253.32 L568.84 252.98 L569.38 252.64 L569.91 252.29 L570.44 251.95 L570.98 251.60 L571.51 251.25 L572.05 250.90 L572.58 250.55 L573.11 250.19 L573.65 249.84 L574.18 249.49 L574.72 249.15 L575.25 248.81 L575.78 248.47 L576.32 248.13 L576.85 247.78 L577.39 247.44 L577.92 247.09 L578.45 246.74 L578.99 246.39 L579.52 246.04 L580.06 245.69 L580.59 245.34 L581.12 244.99 L581.66 244.64 L582.19 244.29 L582.73 243.95 L583.26 243.60 L583.79 243.25 L584.33 242.89 L584.86 242.53 L585.40 242.17 L585.93 241.80 L586.46 241.44 L587.00 241.08 L587.53 240.72 L588.07 240.37 L588.60 240.02 L589.13 239.68 L589.67 239.35 L590.20 239.03 L590.74 238.72 L591.27 238.42 L591.80 238.12 L592.34 237.82 L592.87 237.53 L593.41 237.24 L593.94 236.95 L594.47 236.67 L595.01 236.41 L595.54 236.16 L596.08 235.91 L596.61 235.69 L597.14 235.47 L597.68 235.28 L598.21 235.11 L598.75 234.96 L599.28 234.82 L599.81 234.69 L600.35 234.57 L600.88 234.46 L601.42 234.35 L601.95 234.26 L602.48 234.17 L603.02 234.08 L603.55 234.01 L604.09 233.94 L604.62 233.87 L605.15 233.82 L605.69 233.76 L606.22 233.71 L606.76 233.68 L607.29 233.66 L607.82 233.66 L608.36 233.68 L608.89 233.72 L609.43 233.78 L609.96 233.85 L610.49 233.94 L611.03 234.03 L611.56 234.14 L612.10 234.26 L612.63 234.38 L613.16 234.50 L613.70 234.63 L614.23 234.76 L614.77 234.92 L615.30 235.11 L615.83 235.30 L616.37 235.52 L616.90 235.74 L617.44 235.98 L617.97 236.23 L618.50 236.48 L619.04 236.74 L619.57 237.02 L620.11 237.32 L620.64 237.63 L621.17 237.95 L621.71 238.28 L622.24 238.61 L622.78 238.95 L623.31 239.29 L623.84 239.63 L624.38 239.97 L624.91 240.32 L625.45 240.67 L625.98 241.03 L626.51 241.39 L627.05 241.77 L627.58 242.17 L628.12 242.58 L628.65 243.01 L629.18 243.46 L629.72 243.93 L630.25 244.42 L630.79 244.93 L631.32 245.44 L631.85 245.97 L632.39 246.50 L632.92 247.04 L633.46 247.58 L633.99 248.13 L634.52 248.69 L635.06 249.27 L635.59 249.85 L636.13 250.43 L636.66 251.02 L637.19 251.60 L637.73 252.19 L638.26 252.77 L638.80 253.35 L639.33 253.94 L639.86 254.52 L640.40 255.10 L640.93 255.68 L641.47 256.25 L642.00 256.81 L642.53 257.37 L643.07 257.91 L643.60 258.43 L644.14 258.94 L644.67 259.43 L645.20 259.92 L645.74 260.39 L646.27 260.85 L646.81 261.30 L647.34 261.73 L647.87 262.14 L648.41 262.52 L648.94 262.89 L649.48 263.24 L650.01 263.58 L650.54 263.91 L651.08 264.22 L651.61 264.53 L652.15 264.83 L652.68 265.12 L653.21 265.39 L653.75 265.65 L654.28 265.89 L654.82 266.11 L655.35 266.33 L655.88 266.54 L656.42 266.74 L656.95 266.94 L657.49 267.12 L658.02 267.30 L658.55 267.47 L659.09 267.63 L659.62 267.79 L660.16 267.94 L660.69 268.08 L661.22 268.23 L661.76 268.36 L662.29 268.49 L662.83 268.60 L663.36 268.71 L663.89 268.81 L664.43 268.90 L664.96 268.98 L665.50 269.07 L666.03 269.16 L666.56 269.24 L667.10 269.32 L667.63 269.39 L668.17 269.46 L668.70 269.51 L669.23 269.55 L669.77 269.57 L670.30 269.58 L670.84 269.59 L671.37 269.59 L671.90 269.60 L672.44 269.61 L672.97 269.62 L673.51 269.62 L674.04 269.63 L674.57 269.63 L675.11 269.64 L675.64 269.64 L676.18 269.65 L676.71 269.65 L677.24 269.66 L677.78 269.66 L678.31 269.66 L678.85 269.67 L679.38 269.67 L679.91 269.67 L680.45 269.67 L680.98 269.68 L681.52 269.68 L682.05 269.68 L682.58 269.68 L683.12 269.68 L683.65 269.68 L684.19 269.68 L684.72 269.68 L685.25 269.69 L685.79 269.69 L686.32 269.69 L686.86 269.69 L687.39 269.69 L687.92 269.69 L688.46 269.69 L688.99 269.69 L689.53 269.69 L690.06 269.69 L690.59 269.69 L691.13 269.69 L691.66 269.69 L692.20 269.69 L692.73 269.69 L693.26 269.69 L693.80 269.69 L694.33 269.70 L694.87 269.70 L695.40 269.70 L695.93 269.70 L696.47 269.70 L697.00 269.70 L697.54 269.70 L698.07 269.70 L698.60 269.70 L699.14 269.70 L699.67 269.70 L700.21 269.70 L700.74 269.70 L701.27 269.70 L701.81 269.70 L702.34 269.70 L702.88 269.70 L703.41 269.70 L703.94 269.70 L704.48 269.70 L705.01 269.70 L705.55 269.71 L706.08 269.71 L706.61 269.71 L707.15 269.71 L707.68 269.71 L708.22 269.71 L708.75 269.71 L709.28 269.71 L709.82 269.71 L710.35 269.71 L710.89 269.71 L711.42 269.71 L711.95 269.71 L712.49 269.71 L713.02 269.71 L713.56 269.71 L714.09 269.71 L714.62 269.71 L715.16 269.71 L715.69 269.71 L716.23 269.71 L716.76 269.71 L717.29 269.71 L717.83 269.71 L718.36 269.71 L718.90 269.71 L719.43 269.71 L719.96 269.71 L720.50 269.71 L721.03 269.72 L721.57 269.72 L722.10 269.72 L722.63 269.72 L723.17 269.72 L723.70 269.72 L724.24 269.72 L724.77 269.72 L725.30 269.72 L725.84 269.72 L726.37 269.72 L726.91 269.72 L727.44 269.72 L727.97 269.72 L728.51 269.72 L729.04 269.72 L729.58 269.72 L730.11 269.72 L730.64 269.72 L731.18 269.72 L731.71 269.72 L732.25 269.72 L732.78 269.72 L733.31 269.72 L733.85 269.72 L734.38 269.72 L734.92 269.72 L735.45 269.72 L735.98 269.72 L736.52 269.72 L737.05 269.72 L737.59 269.72 L738.12 269.72 L738.65 269.72 L739.19 269.72 L739.72 269.72 L740.26 269.72 L740.79 269.72 L741.32 269.72 L741.86 269.72 L742.39 269.72 L742.93 269.72 L743.46 269.72 L743.99 269.72 L744.53 269.72 L745.06 269.72 L745.60 269.72 L746.13 269.72 L746.66 269.72 L747.20 269.72 L747.73 269.72 L748.27 269.72 L748.80 269.72 L749.33 269.72 L749.87 269.72 L750.40 269.72 L750.94 269.72 L751.47 269.72 L752.00 269.72 L752.54 269.72 L753.07 269.72 L753.61 269.72 L754.14 269.72 L754.67 269.72 L755.21 269.72 L755.74 269.72 L756.28 269.72 L756.81 269.72 L757.34 269.72 L757.88 269.73 L758.41 269.73 L758.95 269.73 L759.48 269.73 L760.01 269.73 L760.55 269.73 L761.08 269.73 L761.62 269.73 L762.15 269.73 L762.68 269.73 L763.22 269.73 L763.75 269.73 L764.29 269.73 L764.82 269.73 L765.35 269.73 L765.89 269.73 L766.42 269.73 L766.96 269.73 L767.49 269.73 L768.02 269.73 L768.56 269.73 L769.09 269.73 L769.63 269.73 L770.16 269.73 L770.69 269.73 L771.23 269.73" stroke="#a070f5"/>
<path d="M428.40 213.35 L428.93 212.93 L429.47 212.52 L430.00 212.11 L430.54 211.72 L431.07 211.34 L431.60 210.93 L432.14 210.47 L432.67 209.96 L433.21 209.42 L433.74 208.85 L434.27 208.24 L434.81 207.58 L435.34 206.86 L435.88 206.09 L436.41 205.27 L436.94 204.41 L437.48 203.47 L438.01 202.44 L438.55 201.31 L439.08 200.03 L439.61 198.63 L440.15 197.15 L440.68 195.63 L441.22 194.11 L441.75 192.59 L442.28 191.07 L442.82 189.54 L443.35 187.98 L443.89 186.40 L444.42 184.76 L444.95 183.09 L445.49 181.46 L446.02 179.92 L446.56 178.45 L447.09 177.02 L447.62 175.62 L448.16 174.21 L448.69 172.79 L449.23 171.36 L449.76 169.93 L450.29 168.50 L450.83 167.09 L451.36 165.70 L451.90 164.29 L452.43 162.90 L452.96 161.55 L453.50 160.31 L454.03 159.18 L454.57 158.11 L455.10 157.08 L455.63 156.10 L456.17 155.16 L456.70 154.27 L457.24 153.42 L457.77 152.63 L458.30 151.89 L458.84 151.21 L459.37 150.58 L459.91 149.94 L460.44 149.30 L460.97 148.71 L461.51 148.18 L462.04 147.73 L462.58 147.40 L463.11 147.21 L463.64 147.16 L464.18 147.29 L464.71 147.57 L465.25 147.98 L465.78 148.49 L466.31 149.07 L466.85 149.72 L467.38 150.42 L467.92 151.12 L468.45 151.93 L468.98 152.86 L469.52 153.90 L470.05 155.00 L470.59 156.15 L471.12 157.32 L471.65 158.50 L472.19 159.67 L472.72 160.87 L473.26 162.11 L473.79 163.38 L474.32 164.70 L474.86 166.08 L475.39 167.51 L475.93 169.02 L476.46 170.67 L476.99 172.40 L477.53 174.12 L478.06 175.83 L478.60 177.56 L479.13 179.28 L479.66 181.02 L480.20 182.77 L480.73 184.52 L481.27 186.27 L481.80 188.01 L482.33 189.75 L482.87 191.47 L483.40 193.19 L483.94 194.91 L484.47 196.62 L485.00 198.34 L485.54 200.06 L486.07 201.77 L486.61 203.44 L487.14 205.06 L487.67 206.61 L488.21 208.13 L488.74 209.62 L489.28 211.10 L489.81 212.58 L490.34 214.10 L490.88 215.62 L491.41 217.09 L491.95 218.45 L492.48 219.66 L493.01 220.77 L493.55 221.80 L494.08 222.78 L494.62 223.74 L495.15 224.69 L495.68 225.66 L496.22 226.67 L496.75 227.70 L497.29 228.74 L497.82 229.74 L498.35 230.70 L498.89 231.66 L499.42 232.59 L499.96 233.44 L500.49 234.17 L501.02 234.77 L501.56 235.33 L502.09 235.84 L502.63 236.32 L503.16 236.76 L503.69 237.16 L504.23 237.54 L504.76 237.89 L505.30 238.22 L505.83 238.53 L506.36 238.82 L506.90 239.09 L507.43 239.35 L507.97 239.59 L508.50 239.82 L509.03 240.04 L509.57 240.25 L510.10 240.45 L510.64 240.64 L511.17 240.82 L511.70 240.98 L512.24 241.14 L512.77 241.30 L513.31 241.46 L513.84 241.63 L514.37 241.80 L514.91 241.98 L515.44 242.15 L515.98 242.33 L516.51 242.51 L517.04 242.69 L517.58 242.88 L518.11 243.07 L518.65 243.28 L519.18 243.49 L519.71 243.73 L520.25 243.98 L520.78 244.26 L521.32 244.56 L521.85 244.86 L522.38 245.18 L522.92 245.50 L523.45 245.81 L523.99 246.13 L524.52 246.47 L525.05 246.81 L525.59 247.16 L526.12 247.52 L526.66 247.88 L527.19 248.24 L527.72 248.59 L528.26 248.94 L528.79 249.28 L529.33 249.61 L529.86 249.94 L530.39 250.26 L530.93 250.58 L531.46 250.89 L532.00 251.20 L532.53 251.51 L533.06 251.80 L533.60 252.10 L534.13 252.39 L534.67 252.67 L535.20 252.94 L535.73 253.22 L536.27 253.50 L536.80 253.78 L537.34 254.05 L537.87 254.31 L538.40 254.56 L538.94 254.80 L539.47 255.01 L540.01 255.21 L540.54 255.40 L541.07 255.59 L541.61 255.76 L542.14 255.93 L542.68 256.08 L543.21 256.22 L543.74 256.34 L544.28 256.45 L544.81 256.54 L545.35 256.64 L545.88 256.73 L546.41 256.81 L546.95 256.88 L547.48 256.94 L548.02 256.99 L548.55 257.01 L549.08 257.00 L549.62 256.99 L550.15 256.95 L550.69 256.91 L551.22 256.85 L551.75 256.79 L552.29 256.71 L552.82 256.64 L553.36 256.56 L553.89 256.47 L554.42 256.35 L554.96 256.21 L555.49 256.05 L556.03 255.87 L556.56 255.68 L557.09 255.49 L557.63 255.30 L558.16 255.11 L558.70 254.94 L559.23 254.77 L559.76 254.60 L560.30 254.42 L560.83 254.24 L561.37 254.03 L561.90 253.81 L562.43 253.57 L562.97 253.31 L563.50 253.02 L564.04 252.72 L564.57 252.40 L565.10 252.05 L565.64 251.70 L566.17 251.33 L566.71 250.94 L567.24 250.55 L567.77 250.15 L568.31 249.74 L568.84 249.33 L569.38 248.91 L569.91 248.49 L570.44 248.07 L570.98 247.64 L571.51 247.21 L572.05 246.79 L572.58 246.36 L573.11 245.93 L573.65 245.50 L574.18 245.07 L574.72 244.65 L575.25 244.23 L575.78 243.82 L576.32 243.41 L576.85 242.99 L577.39 242.57 L577.92 242.15 L578.45 241.72 L578.99 241.30 L579.52 240.87 L580.06 240.44 L580.59 240.01 L581.12 239.59 L581.66 239.16 L582.19 238.74 L582.73 238.31 L583.26 237.89 L583.79 237.46 L584.33 237.03 L584.86 236.59 L585.40 236.14 L585.93 235.70 L586.46 235.25 L587.00 234.81 L587.53 234.38 L588.07 233.94 L588.60 233.52 L589.13 233.10 L589.67 232.70 L590.20 232.31 L590.74 231.93 L591.27 231.57 L591.80 231.21 L592.34 230.84 L592.87 230.48 L593.41 230.12 L593.94 229.76 L594.47 229.42 L595.01 229.09 L595.54 228.78 L596.08 228.48 L596.61 228.20 L597.14 227.94 L597.68 227.71 L598.21 227.50 L598.75 227.32 L599.28 227.16 L599.81 227.01 L600.35 226.86 L600.88 226.73 L601.42 226.61 L601.95 226.49 L602.48 226.38 L603.02 226.29 L603.55 226.19 L604.09 226.11 L604.62 226.04 L605.15 225.96 L605.69 225.89 L606.22 225.83 L606.76 225.78 L607.29 225.75 L607.82 225.75 L608.36 225.77 L608.89 225.82 L609.43 225.88 L609.96 225.97 L610.49 226.08 L611.03 226.19 L611.56 226.32 L612.10 226.46 L612.63 226.61 L613.16 226.76 L613.70 226.91 L614.23 227.07 L614.77 227.27 L615.30 227.49 L615.83 227.74 L616.37 228.00 L616.90 228.28 L617.44 228.57 L617.97 228.88 L618.50 229.18 L619.04 229.50 L619.57 229.84 L620.11 230.20 L620.64 230.57 L621.17 230.96 L621.71 231.35 L622.24 231.76 L622.78 232.16 L623.31 232.57 L623.84 232.97 L624.38 233.38 L624.91 233.79 L625.45 234.21 L625.98 234.63 L626.51 235.07 L627.05 235.52 L627.58 236.00 L628.12 236.49 L628.65 237.01 L629.18 237.56 L629.72 238.13 L630.25 238.72 L630.79 239.33 L631.32 239.95 L631.85 240.58 L632.39 241.23 L632.92 241.88 L633.46 242.53 L633.99 243.19 L634.52 243.87 L635.06 244.56 L635.59 245.26 L636.13 245.97 L636.66 246.67 L637.19 247.37 L637.73 248.06 L638.26 248.75 L638.80 249.45 L639.33 250.14 L639.86 250.82 L640.40 251.51 L640.93 252.20 L641.47 252.88 L642.00 253.55 L642.53 254.22 L643.07 254.87 L643.60 255.51 L644.14 256.13 L644.67 256.74 L645.20 257.34 L645.74 257.93 L646.27 258.51 L646.81 259.08 L647.34 259.62 L647.87 260.12 L648.41 260.60 L648.94 261.06 L649.48 261.51 L650.01 261.93 L650.54 262.34 L651.08 262.74 L651.61 263.12 L652.15 263.50 L652.68 263.87 L653.21 264.21 L653.75 264.54 L654.28 264.84 L654.82 265.12 L655.35 265.40 L655.88 265.66 L656.42 265.92 L656.95 266.16 L657.49 266.40 L658.02 266.62 L658.55 266.83 L659.09 267.04 L659.62 267.23 L660.16 267.43 L660.69 267.61 L661.22 267.79 L661.76 267.96 L662.29 268.12 L662.83 268.27 L663.36 268.41 L663.89 268.54 L664.43 268.66 L664.96 268.77 L665.50 268.88 L666.03 268.99 L666.56 269.10 L667.10 269.20 L667.63 269.30 L668.17 269.38 L668.70 269.45 L669.23 269.50 L669.77 269.53 L670.30 269.54 L670.84 269.55 L671.37 269.56 L671.90 269.57 L672.44 269.58 L672.97 269.58 L673.51 269.59 L674.04 269.60 L674.57 269.61 L675.11 269.61 L675.64 269.62 L676.18 269.62 L676.71 269.63 L677.24 269.63 L677.78 269.64 L678.31 269.64 L678.85 269.65 L679.38 269.65 L679.91 269.65 L680.45 269.66 L680.98 269.66 L681.52 269.66 L682.05 269.66 L682.58 269.67 L683.12 269.67 L683.65 269.67 L684.19 269.67 L684.72 269.67 L685.25 269.67 L685.79 269.67 L686.32 269.67 L686.86 269.67 L687.39 269.67 L687.92 269.67 L688.46 269.67 L688.99 269.68 L689.53 269.68 L690.06 269.68 L690.59 269.68 L691.13 269.68 L691.66 269.68 L692.20 269.68 L692.73 269.68 L693.26 269.68 L693.80 269.68 L694.33 269.68 L694.87 269.68 L695.40 269.68 L695.93 269.68 L696.47 269.68 L697.00 269.68 L697.54 269.68 L698.07 269.69 L698.60 269.69 L699.14 269.69 L699.67 269.69 L700.21 269.69 L700.74 269.69 L701.27 269.69 L701.81 269.69 L702.34 269.69 L702.88 269.69 L703.41 269.69 L703.94 269.69 L704.48 269.69 L705.01 269.69 L705.55 269.69 L706.08 269.69 L706.61 269.69 L707.15 269.69 L707.68 269.69 L708.22 269.69 L708.75 269.69 L709.28 269.69 L709.82 269.70 L710.35 269.70 L710.89 269.70 L711.42 269.70 L711.95 269.70 L712.49 269.70 L713.02 269.70 L713.56 269.70 L714.09 269.70 L714.62 269.70 L715.16 269.70 L715.69 269.70 L716.23 269.70 L716.76 269.70 L717.29 269.70 L717.83 269.70 L718.36 269.70 L718.90 269.70 L719.43 269.70 L719.96 269.70 L720.50 269.70 L721.03 269.70 L721.57 269.70 L722.10 269.70 L722.63 269.70 L723.17 269.70 L723.70 269.70 L724.24 269.70 L724.77 269.70 L725.30 269.70 L725.84 269.70 L726.37 269.71 L726.91 269.71 L727.44 269.71 L727.97 269.71 L728.51 269.71 L729.04 269.71 L729.58 269.71 L730.11 269.71 L730.64 269.71 L731.18 269.71 L731.71 269.71 L732.25 269.71 L732.78 269.71 L733.31 269.71 L733.85 269.71 L734.38 269.71 L734.92 269.71 L735.45 269.71 L735.98 269.71 L736.52 269.71 L737.05 269.71 L737.59 269.71 L738.12 269.71 L738.65 269.71 L739.19 269.71 L739.72 269.71 L740.26 269.71 L740.79 269.71 L741.32 269.71 L741.86 269.71 L742.39 269.71 L742.93 269.71 L743.46 269.71 L743.99 269.71 L744.53 269.71 L745.06 269.71 L745.60 269.71 L746.13 269.71 L746.66 269.71 L747.20 269.71 L747.73 269.71 L748.27 269.71 L748.80 269.71 L749.33 269.71 L749.87 269.71 L750.40 269.71 L750.94 269.71 L751.47 269.71 L752.00 269.71 L752.54 269.71 L753.07 269.71 L753.61 269.71 L754.14 269.71 L754.67 269.71 L755.21 269.71 L755.74 269.71 L756.28 269.71 L756.81 269.71 L757.34 269.71 L757.88 269.71 L758.41 269.71 L758.95 269.71 L759.48 269.71 L760.01 269.71 L760.55 269.71 L761.08 269.71 L761.62 269.71 L762.15 269.71 L762.68 269.71 L763.22 269.71 L763.75 269.71 L764.29 269.71 L764.82 269.71 L765.35 269.71 L765.89 269.71 L766.42 269.71 L766.96 269.71 L767.49 269.71 L768.02 269.71 L768.56 269.71 L769.09 269.71 L769.63 269.71 L770.16 269.71 L770.69 269.71 L771.23 269.71" stroke="#c8961e"/>
<path d="M428.40 203.52 L428.93 203.00 L429.47 202.48 L430.00 201.97 L430.54 201.48 L431.07 200.99 L431.60 200.46 L432.14 199.87 L432.67 199.21 L433.21 198.52 L433.74 197.79 L434.27 197.01 L434.81 196.16 L435.34 195.26 L435.88 194.30 L436.41 193.30 L436.94 192.25 L437.48 191.12 L438.01 189.89 L438.55 188.53 L439.08 187.00 L439.61 185.33 L440.15 183.57 L440.68 181.75 L441.22 179.94 L441.75 178.14 L442.28 176.32 L442.82 174.48 L443.35 172.61 L443.89 170.71 L444.42 168.72 L444.95 166.70 L445.49 164.73 L446.02 162.85 L446.56 161.07 L447.09 159.34 L447.62 157.64 L448.16 155.94 L448.69 154.21 L449.23 152.48 L449.76 150.74 L450.29 149.01 L450.83 147.31 L451.36 145.63 L451.90 143.93 L452.43 142.24 L452.96 140.63 L453.50 139.12 L454.03 137.78 L454.57 136.49 L455.10 135.25 L455.63 134.06 L456.17 132.93 L456.70 131.85 L457.24 130.83 L457.77 129.88 L458.30 128.99 L458.84 128.19 L459.37 127.43 L459.91 126.66 L460.44 125.90 L460.97 125.18 L461.51 124.53 L462.04 123.99 L462.58 123.59 L463.11 123.34 L463.64 123.29 L464.18 123.44 L464.71 123.79 L465.25 124.30 L465.78 124.93 L466.31 125.65 L466.85 126.44 L467.38 127.28 L467.92 128.12 L468.45 129.08 L468.98 130.20 L469.52 131.44 L470.05 132.77 L470.59 134.15 L471.12 135.55 L471.65 136.96 L472.19 138.36 L472.72 139.78 L473.26 141.24 L473.79 142.74 L474.32 144.30 L474.86 145.92 L475.39 147.61 L475.93 149.40 L476.46 151.36 L476.99 153.42 L477.53 155.48 L478.06 157.52 L478.60 159.58 L479.13 161.65 L479.66 163.73 L480.20 165.81 L480.73 167.90 L481.27 169.99 L481.80 172.06 L482.33 174.13 L482.87 176.18 L483.40 178.22 L483.94 180.26 L484.47 182.29 L485.00 184.34 L485.54 186.39 L486.07 188.42 L486.61 190.41 L487.14 192.33 L487.67 194.18 L488.21 195.99 L488.74 197.77 L489.28 199.53 L489.81 201.31 L490.34 203.14 L490.88 204.97 L491.41 206.74 L491.95 208.38 L492.48 209.83 L493.01 211.15 L493.55 212.38 L494.08 213.55 L494.62 214.69 L495.15 215.82 L495.68 216.98 L496.22 218.19 L496.75 219.43 L497.29 220.66 L497.82 221.87 L498.35 223.02 L498.89 224.16 L499.42 225.28 L499.96 226.32 L500.49 227.19 L501.02 227.91 L501.56 228.58 L502.09 229.20 L502.63 229.77 L503.16 230.29 L503.69 230.78 L504.23 231.24 L504.76 231.66 L505.30 232.05 L505.83 232.42 L506.36 232.77 L506.90 233.09 L507.43 233.40 L507.97 233.68 L508.50 233.96 L509.03 234.22 L509.57 234.47 L510.10 234.70 L510.64 234.93 L511.17 235.13 L511.70 235.33 L512.24 235.52 L512.77 235.70 L513.31 235.89 L513.84 236.08 L514.37 236.28 L514.91 236.49 L515.44 236.70 L515.98 236.91 L516.51 237.13 L517.04 237.34 L517.58 237.57 L518.11 237.80 L518.65 238.05 L519.18 238.31 L519.71 238.59 L520.25 238.91 L520.78 239.24 L521.32 239.60 L521.85 239.97 L522.38 240.36 L522.92 240.75 L523.45 241.13 L523.99 241.52 L524.52 241.92 L525.05 242.34 L525.59 242.77 L526.12 243.20 L526.66 243.63 L527.19 244.07 L527.72 244.49 L528.26 244.91 L528.79 245.32 L529.33 245.71 L529.86 246.10 L530.39 246.48 L530.93 246.86 L531.46 247.24 L532.00 247.60 L532.53 247.97 L533.06 248.32 L533.60 248.67 L534.13 249.02 L534.67 249.36 L535.20 249.69 L535.73 250.03 L536.27 250.37 L536.80 250.70 L537.34 251.03 L537.87 251.35 L538.40 251.65 L538.94 251.94 L539.47 252.19 L540.01 252.43 L540.54 252.66 L541.07 252.88 L541.61 253.09 L542.14 253.29 L542.68 253.48 L543.21 253.64 L543.74 253.79 L544.28 253.92 L544.81 254.04 L545.35 254.15 L545.88 254.27 L546.41 254.37 L546.95 254.46 L547.48 254.53 L548.02 254.58 L548.55 254.60 L549.08 254.60 L549.62 254.58 L550.15 254.53 L550.69 254.47 L551.22 254.40 L551.75 254.32 L552.29 254.23 L552.82 254.13 L553.36 254.03 L553.89 253.92 L554.42 253.77 L554.96 253.59 L555.49 253.38 L556.03 253.16 L556.56 252.92 L557.09 252.68 L557.63 252.44 L558.16 252.21 L558.70 251.99 L559.23 251.78 L559.76 251.56 L560.30 251.34 L560.83 251.11 L561.37 250.87 L561.90 250.60 L562.43 250.31 L562.97 250.00 L563.50 249.66 L564.04 249.30 L564.57 248.92 L565.10 248.52 L565.64 248.09 L566.17 247.66 L566.71 247.20 L567.24 246.74 L567.77 246.26 L568.31 245.78 L568.84 245.28 L569.38 244.78 L569.91 244.28 L570.44 243.78 L570.98 243.27 L571.51 242.75 L572.05 242.24 L572.58 241.72 L573.11 241.21 L573.65 240.70 L574.18 240.19 L574.72 239.69 L575.25 239.19 L575.78 238.70 L576.32 238.21 L576.85 237.71 L577.39 237.21 L577.92 236.71 L578.45 236.20 L578.99 235.70 L579.52 235.19 L580.06 234.68 L580.59 234.17 L581.12 233.66 L581.66 233.16 L582.19 232.65 L582.73 232.15 L583.26 231.65 L583.79 231.14 L584.33 230.62 L584.86 230.10 L585.40 229.58 L585.93 229.06 L586.46 228.53 L587.00 228.01 L587.53 227.49 L588.07 226.98 L588.60 226.48 L589.13 226.00 L589.67 225.52 L590.20 225.06 L590.74 224.62 L591.27 224.20 L591.80 223.77 L592.34 223.34 L592.87 222.91 L593.41 222.49 L593.94 222.07 L594.47 221.67 L595.01 221.28 L595.54 220.91 L596.08 220.56 L596.61 220.23 L597.14 219.93 L597.68 219.66 L598.21 219.42 L598.75 219.22 L599.28 219.04 L599.81 218.87 L600.35 218.72 L600.88 218.57 L601.42 218.43 L601.95 218.31 L602.48 218.19 L603.02 218.08 L603.55 217.98 L604.09 217.89 L604.62 217.80 L605.15 217.72 L605.69 217.63 L606.22 217.56 L606.76 217.49 L607.29 217.45 L607.82 217.45 L608.36 217.47 L608.89 217.52 L609.43 217.60 L609.96 217.70 L610.49 217.82 L611.03 217.95 L611.56 218.10 L612.10 218.26 L612.63 218.43 L613.16 218.60 L613.70 218.78 L614.23 218.96 L614.77 219.19 L615.30 219.45 L615.83 219.74 L616.37 220.05 L616.90 220.38 L617.44 220.72 L617.97 221.08 L618.50 221.43 L619.04 221.80 L619.57 222.20 L620.11 222.61 L620.64 223.05 L621.17 223.49 L621.71 223.95 L622.24 224.42 L622.78 224.88 L623.31 225.35 L623.84 225.82 L624.38 226.29 L624.91 226.76 L625.45 227.24 L625.98 227.73 L626.51 228.24 L627.05 228.77 L627.58 229.32 L628.12 229.89 L628.65 230.50 L629.18 231.14 L629.72 231.81 L630.25 232.51 L630.79 233.23 L631.32 233.96 L631.85 234.71 L632.39 235.47 L632.92 236.23 L633.46 237.00 L633.99 237.78 L634.52 238.58 L635.06 239.40 L635.59 240.24 L636.13 241.07 L636.66 241.90 L637.19 242.72 L637.73 243.53 L638.26 244.34 L638.80 245.15 L639.33 245.95 L639.86 246.76 L640.40 247.56 L640.93 248.36 L641.47 249.16 L642.00 249.96 L642.53 250.75 L643.07 251.52 L643.60 252.28 L644.14 253.03 L644.67 253.76 L645.20 254.49 L645.74 255.22 L646.27 255.93 L646.81 256.62 L647.34 257.28 L647.87 257.90 L648.41 258.48 L648.94 259.05 L649.48 259.59 L650.01 260.11 L650.54 260.61 L651.08 261.10 L651.61 261.57 L652.15 262.03 L652.68 262.48 L653.21 262.91 L653.75 263.31 L654.28 263.68 L654.82 264.03 L655.35 264.37 L655.88 264.69 L656.42 265.01 L656.95 265.31 L657.49 265.59 L658.02 265.87 L658.55 266.13 L659.09 266.38 L659.62 266.62 L660.16 266.86 L660.69 267.09 L661.22 267.31 L661.76 267.52 L662.29 267.72 L662.83 267.91 L663.36 268.08 L663.89 268.24 L664.43 268.39 L664.96 268.53 L665.50 268.67 L666.03 268.81 L666.56 268.95 L667.10 269.07 L667.63 269.19 L668.17 269.29 L668.70 269.38 L669.23 269.44 L669.77 269.48 L670.30 269.49 L670.84 269.51 L671.37 269.52 L671.90 269.53 L672.44 269.54 L672.97 269.55 L673.51 269.56 L674.04 269.57 L674.57 269.58 L675.11 269.58 L675.64 269.59 L676.18 269.60 L676.71 269.61 L677.24 269.61 L677.78 269.62 L678.31 269.62 L678.85 269.63 L679.38 269.63 L679.91 269.63 L680.45 269.64 L680.98 269.64 L681.52 269.64 L682.05 269.65 L682.58 269.65 L683.12 269.65 L683.65 269.65 L684.19 269.65 L684.72 269.65 L685.25 269.65 L685.79 269.66 L686.32 269.66 L686.86 269.66 L687.39 269.66 L687.92 269.66 L688.46 269.66 L688.99 269.66 L689.53 269.66 L690.06 269.66 L690.59 269.66 L691.13 269.66 L691.66 269.66 L692.20 269.66 L692.73 269.66 L693.26 269.66 L693.80 269.67 L694.33 269.67 L694.87 269.67 L695.40 269.67 L695.93 269.67 L696.47 269.67 L697.00 269.67 L697.54 269.67 L698.07 269.67 L698.60 269.67 L699.14 269.67 L699.67 269.67 L700.21 269.67 L700.74 269.67 L701.27 269.67 L701.81 269.67 L702.34 269.67 L702.88 269.67 L703.41 269.68 L703.94 269.68 L704.48 269.68 L705.01 269.68 L705.55 269.68 L706.08 269.68 L706.61 269.68 L707.15 269.68 L707.68 269.68 L708.22 269.68 L708.75 269.68 L709.28 269.68 L709.82 269.68 L710.35 269.68 L710.89 269.68 L711.42 269.68 L711.95 269.68 L712.49 269.68 L713.02 269.68 L713.56 269.68 L714.09 269.68 L714.62 269.68 L715.16 269.68 L715.69 269.69 L716.23 269.69 L716.76 269.69 L717.29 269.69 L717.83 269.69 L718.36 269.69 L718.90 269.69 L719.43 269.69 L719.96 269.69 L720.50 269.69 L721.03 269.69 L721.57 269.69 L722.10 269.69 L722.63 269.69 L723.17 269.69 L723.70 269.69 L724.24 269.69 L724.77 269.69 L725.30 269.69 L725.84 269.69 L726.37 269.69 L726.91 269.69 L727.44 269.69 L727.97 269.69 L728.51 269.69 L729.04 269.69 L729.58 269.69 L730.11 269.69 L730.64 269.69 L731.18 269.69 L731.71 269.69 L732.25 269.69 L732.78 269.69 L733.31 269.69 L733.85 269.69 L734.38 269.69 L734.92 269.69 L735.45 269.70 L735.98 269.70 L736.52 269.70 L737.05 269.70 L737.59 269.70 L738.12 269.70 L738.65 269.70 L739.19 269.70 L739.72 269.70 L740.26 269.70 L740.79 269.70 L741.32 269.70 L741.86 269.70 L742.39 269.70 L742.93 269.70 L743.46 269.70 L743.99 269.70 L744.53 269.70 L745.06 269.70 L745.60 269.70 L746.13 269.70 L746.66 269.70 L747.20 269.70 L747.73 269.70 L748.27 269.70 L748.80 269.70 L749.33 269.70 L749.87 269.70 L750.40 269.70 L750.94 269.70 L751.47 269.70 L752.00 269.70 L752.54 269.70 L753.07 269.70 L753.61 269.70 L754.14 269.70 L754.67 269.70 L755.21 269.70 L755.74 269.70 L756.28 269.70 L756.81 269.70 L757.34 269.70 L757.88 269.70 L758.41 269.70 L758.95 269.70 L759.48 269.70 L760.01 269.70 L760.55 269.70 L761.08 269.70 L761.62 269.70 L762.15 269.70 L762.68 269.70 L763.22 269.70 L763.75 269.70 L764.29 269.70 L764.82 269.70 L765.35 269.70 L765.89 269.70 L766.42 269.70 L766.96 269.70 L767.49 269.70 L768.02 269.70 L768.56 269.70 L769.09 269.70 L769.63 269.70 L770.16 269.70 L770.69 269.70 L771.23 269.70" stroke="#50f0c0"/>
<path d="M428.40 187.76 L428.93 187.10 L429.47 186.46 L430.00 185.85 L430.54 185.29 L431.07 184.76 L431.60 184.18 L432.14 183.52 L432.67 182.80 L433.21 182.02 L433.74 181.21 L434.27 180.34 L434.81 179.41 L435.34 178.43 L435.88 177.40 L436.41 176.35 L436.94 175.27 L437.48 174.13 L438.01 172.90 L438.55 171.54 L439.08 170.00 L439.61 168.29 L440.15 166.48 L440.68 164.60 L441.22 162.71 L441.75 160.82 L442.28 158.88 L442.82 156.89 L443.35 154.84 L443.89 152.71 L444.42 150.45 L444.95 148.13 L445.49 145.84 L446.02 143.65 L446.56 141.56 L447.09 139.53 L447.62 137.52 L448.16 135.50 L448.69 133.44 L449.23 131.37 L449.76 129.29 L450.29 127.23 L450.83 125.21 L451.36 123.21 L451.90 121.18 L452.43 119.17 L452.96 117.25 L453.50 115.46 L454.03 113.86 L454.57 112.34 L455.10 110.86 L455.63 109.45 L456.17 108.10 L456.70 106.81 L457.24 105.60 L457.77 104.47 L458.30 103.42 L458.84 102.47 L459.37 101.58 L459.91 100.66 L460.44 99.75 L460.97 98.90 L461.51 98.13 L462.04 97.48 L462.58 96.99 L463.11 96.69 L463.64 96.62 L464.18 96.81 L464.71 97.23 L465.25 97.85 L465.78 98.61 L466.31 99.48 L466.85 100.44 L467.38 101.44 L467.92 102.43 L468.45 103.57 L468.98 104.89 L469.52 106.36 L470.05 107.94 L470.59 109.57 L471.12 111.24 L471.65 112.90 L472.19 114.55 L472.72 116.21 L473.26 117.92 L473.79 119.68 L474.32 121.51 L474.86 123.40 L475.39 125.39 L475.93 127.48 L476.46 129.79 L476.99 132.23 L477.53 134.66 L478.06 137.07 L478.60 139.50 L479.13 141.95 L479.66 144.41 L480.20 146.87 L480.73 149.34 L481.27 151.80 L481.80 154.25 L482.33 156.68 L482.87 159.09 L483.40 161.50 L483.94 163.89 L484.47 166.29 L485.00 168.69 L485.54 171.11 L486.07 173.51 L486.61 175.85 L487.14 178.12 L487.67 180.30 L488.21 182.43 L488.74 184.53 L489.28 186.61 L489.81 188.72 L490.34 190.89 L490.88 193.07 L491.41 195.18 L491.95 197.13 L492.48 198.84 L493.01 200.41 L493.55 201.86 L494.08 203.24 L494.62 204.58 L495.15 205.92 L495.68 207.29 L496.22 208.72 L496.75 210.19 L497.29 211.65 L497.82 213.08 L498.35 214.44 L498.89 215.79 L499.42 217.13 L499.96 218.36 L500.49 219.40 L501.02 220.26 L501.56 221.04 L502.09 221.78 L502.63 222.45 L503.16 223.08 L503.69 223.66 L504.23 224.19 L504.76 224.69 L505.30 225.16 L505.83 225.59 L506.36 226.00 L506.90 226.39 L507.43 226.75 L507.97 227.09 L508.50 227.41 L509.03 227.71 L509.57 228.00 L510.10 228.28 L510.64 228.54 L511.17 228.78 L511.70 229.01 L512.24 229.23 L512.77 229.45 L513.31 229.67 L513.84 229.89 L514.37 230.13 L514.91 230.37 L515.44 230.62 L515.98 230.87 L516.51 231.12 L517.04 231.37 L517.58 231.64 L518.11 231.92 L518.65 232.21 L519.18 232.52 L519.71 232.86 L520.25 233.23 L520.78 233.64 L521.32 234.07 L521.85 234.52 L522.38 234.98 L522.92 235.44 L523.45 235.91 L523.99 236.37 L524.52 236.85 L525.05 237.35 L525.59 237.86 L526.12 238.37 L526.66 238.89 L527.19 239.41 L527.72 239.91 L528.26 240.41 L528.79 240.89 L529.33 241.35 L529.86 241.81 L530.39 242.26 L530.93 242.71 L531.46 243.15 L532.00 243.58 L532.53 244.01 L533.06 244.44 L533.60 244.85 L534.13 245.26 L534.67 245.66 L535.20 246.06 L535.73 246.46 L536.27 246.87 L536.80 247.27 L537.34 247.66 L537.87 248.04 L538.40 248.40 L538.94 248.74 L539.47 249.05 L540.01 249.33 L540.54 249.60 L541.07 249.87 L541.61 250.12 L542.14 250.35 L542.68 250.57 L543.21 250.77 L543.74 250.95 L544.28 251.10 L544.81 251.24 L545.35 251.38 L545.88 251.51 L546.41 251.64 L546.95 251.74 L547.48 251.83 L548.02 251.89 L548.55 251.92 L549.08 251.91 L549.62 251.88 L550.15 251.83 L550.69 251.76 L551.22 251.67 L551.75 251.56 L552.29 251.45 L552.82 251.33 L553.36 251.20 L553.89 251.07 L554.42 250.89 L554.96 250.66 L555.49 250.41 L556.03 250.13 L556.56 249.84 L557.09 249.54 L557.63 249.24 L558.16 248.96 L558.70 248.70 L559.23 248.43 L559.76 248.17 L560.30 247.90 L560.83 247.62 L561.37 247.32 L561.90 247.01 L562.43 246.67 L562.97 246.30 L563.50 245.90 L564.04 245.48 L564.57 245.03 L565.10 244.56 L565.64 244.06 L566.17 243.55 L566.71 243.02 L567.24 242.47 L567.77 241.91 L568.31 241.33 L568.84 240.75 L569.38 240.16 L569.91 239.56 L570.44 238.96 L570.98 238.35 L571.51 237.74 L572.05 237.13 L572.58 236.52 L573.11 235.91 L573.65 235.30 L574.18 234.70 L574.72 234.10 L575.25 233.51 L575.78 232.93 L576.32 232.34 L576.85 231.75 L577.39 231.16 L577.92 230.56 L578.45 229.95 L578.99 229.35 L579.52 228.74 L580.06 228.14 L580.59 227.53 L581.12 226.92 L581.66 226.31 L582.19 225.71 L582.73 225.11 L583.26 224.50 L583.79 223.90 L584.33 223.28 L584.86 222.66 L585.40 222.03 L585.93 221.40 L586.46 220.77 L587.00 220.14 L587.53 219.52 L588.07 218.90 L588.60 218.30 L589.13 217.72 L589.67 217.14 L590.20 216.59 L590.74 216.06 L591.27 215.55 L591.80 215.03 L592.34 214.51 L592.87 213.99 L593.41 213.47 L593.94 212.96 L594.47 212.47 L595.01 212.00 L595.54 211.54 L596.08 211.11 L596.61 210.71 L597.14 210.34 L597.68 210.01 L598.21 209.72 L598.75 209.48 L599.28 209.26 L599.81 209.06 L600.35 208.87 L600.88 208.69 L601.42 208.52 L601.95 208.37 L602.48 208.23 L603.02 208.09 L603.55 207.97 L604.09 207.86 L604.62 207.75 L605.15 207.65 L605.69 207.54 L606.22 207.45 L606.76 207.37 L607.29 207.31 L607.82 207.30 L608.36 207.32 L608.89 207.38 L609.43 207.47 L609.96 207.59 L610.49 207.74 L611.03 207.90 L611.56 208.08 L612.10 208.27 L612.63 208.48 L613.16 208.69 L613.70 208.90 L614.23 209.12 L614.77 209.40 L615.30 209.72 L615.83 210.07 L616.37 210.45 L616.90 210.86 L617.44 211.28 L617.97 211.71 L618.50 212.14 L619.04 212.58 L619.57 213.06 L620.11 213.56 L620.64 214.08 L621.17 214.62 L621.71 215.16 L622.24 215.72 L622.78 216.28 L623.31 216.84 L623.84 217.39 L624.38 217.95 L624.91 218.51 L625.45 219.08 L625.98 219.67 L626.51 220.27 L627.05 220.90 L627.58 221.55 L628.12 222.24 L628.65 222.96 L629.18 223.73 L629.72 224.53 L630.25 225.35 L630.79 226.20 L631.32 227.08 L631.85 227.96 L632.39 228.86 L632.92 229.77 L633.46 230.68 L633.99 231.60 L634.52 232.55 L635.06 233.53 L635.59 234.51 L636.13 235.50 L636.66 236.48 L637.19 237.44 L637.73 238.39 L638.26 239.34 L638.80 240.28 L639.33 241.22 L639.86 242.16 L640.40 243.10 L640.93 244.04 L641.47 244.97 L642.00 245.91 L642.53 246.83 L643.07 247.75 L643.60 248.65 L644.14 249.54 L644.67 250.41 L645.20 251.29 L645.74 252.16 L646.27 253.02 L646.81 253.85 L647.34 254.65 L647.87 255.40 L648.41 256.10 L648.94 256.78 L649.48 257.44 L650.01 258.06 L650.54 258.67 L651.08 259.26 L651.61 259.83 L652.15 260.39 L652.68 260.93 L653.21 261.45 L653.75 261.93 L654.28 262.38 L654.82 262.80 L655.35 263.21 L655.88 263.61 L656.42 263.99 L656.95 264.35 L657.49 264.70 L658.02 265.03 L658.55 265.34 L659.09 265.64 L659.62 265.94 L660.16 266.22 L660.69 266.50 L661.22 266.77 L661.76 267.03 L662.29 267.27 L662.83 267.50 L663.36 267.71 L663.89 267.91 L664.43 268.09 L664.96 268.26 L665.50 268.43 L666.03 268.61 L666.56 268.77 L667.10 268.93 L667.63 269.07 L668.17 269.20 L668.70 269.30 L669.23 269.38 L669.77 269.42 L670.30 269.44 L670.84 269.46 L671.37 269.47 L671.90 269.49 L672.44 269.50 L672.97 269.51 L673.51 269.52 L674.04 269.53 L674.57 269.54 L675.11 269.55 L675.64 269.56 L676.18 269.57 L676.71 269.58 L677.24 269.59 L677.78 269.59 L678.31 269.60 L678.85 269.60 L679.38 269.61 L679.91 269.61 L680.45 269.62 L680.98 269.62 L681.52 269.62 L682.05 269.63 L682.58 269.63 L683.12 269.63 L683.65 269.63 L684.19 269.64 L684.72 269.64 L685.25 269.64 L685.79 269.64 L686.32 269.64 L686.86 269.64 L687.39 269.64 L687.92 269.64 L688.46 269.64 L688.99 269.64 L689.53 269.64 L690.06 269.64 L690.59 269.64 L691.13 269.64 L691.66 269.65 L692.20 269.65 L692.73 269.65 L693.26 269.65 L693.80 269.65 L694.33 269.65 L694.87 269.65 L695.40 269.65 L695.93 269.65 L696.47 269.65 L697.00 269.65 L697.54 269.65 L698.07 269.65 L698.60 269.65 L699.14 269.65 L699.67 269.65 L700.21 269.66 L700.74 269.66 L701.27 269.66 L701.81 269.66 L702.34 269.66 L702.88 269.66 L703.41 269.66 L703.94 269.66 L704.48 269.66 L705.01 269.66 L705.55 269.66 L706.08 269.66 L706.61 269.66 L707.15 269.66 L707.68 269.66 L708.22 269.66 L708.75 269.66 L709.28 269.66 L709.82 269.66 L710.35 269.67 L710.89 269.67 L711.42 269.67 L711.95 269.67 L712.49 269.67 L713.02 269.67 L713.56 269.67 L714.09 269.67 L714.62 269.67 L715.16 269.67 L715.69 269.67 L716.23 269.67 L716.76 269.67 L717.29 269.67 L717.83 269.67 L718.36 269.67 L718.90 269.67 L719.43 269.67 L719.96 269.67 L720.50 269.67 L721.03 269.67 L721.57 269.67 L722.10 269.67 L722.63 269.67 L723.17 269.67 L723.70 269.67 L724.24 269.67 L724.77 269.68 L725.30 269.68 L725.84 269.68 L726.37 269.68 L726.91 269.68 L727.44 269.68 L727.97 269.68 L728.51 269.68 L729.04 269.68 L729.58 269.68 L730.11 269.68 L730.64 269.68 L731.18 269.68 L731.71 269.68 L732.25 269.68 L732.78 269.68 L733.31 269.68 L733.85 269.68 L734.38 269.68 L734.92 269.68 L735.45 269.68 L735.98 269.68 L736.52 269.68 L737.05 269.68 L737.59 269.68 L738.12 269.68 L738.65 269.68 L739.19 269.68 L739.72 269.68 L740.26 269.68 L740.79 269.68 L741.32 269.68 L741.86 269.68 L742.39 269.68 L742.93 269.68 L743.46 269.68 L743.99 269.68 L744.53 269.68 L745.06 269.68 L745.60 269.68 L746.13 269.68 L746.66 269.68 L747.20 269.68 L747.73 269.68 L748.27 269.68 L748.80 269.68 L749.33 269.68 L749.87 269.68 L750.40 269.68 L750.94 269.68 L751.47 269.68 L752.00 269.68 L752.54 269.68 L753.07 269.68 L753.61 269.68 L754.14 269.68 L754.67 269.68 L755.21 269.68 L755.74 269.69 L756.28 269.69 L756.81 269.69 L757.34 269.69 L757.88 269.69 L758.41 269.69 L758.95 269.69 L759.48 269.69 L760.01 269.69 L760.55 269.69 L761.08 269.69 L761.62 269.69 L762.15 269.69 L762.68 269.69 L763.22 269.69 L763.75 269.69 L764.29 269.69 L764.82 269.69 L765.35 269.69 L765.89 269.69 L766.42 269.69 L766.96 269.69 L767.49 269.69 L768.02 269.69 L768.56 269.69 L769.09 269.69 L769.63 269.69 L770.16 269.69 L770.69 269.69 L771.23 269.69" stroke="#6a3254"/>
<path d="M428.40 179.60 L428.93 178.81 L429.47 178.01 L430.00 177.21 L430.54 176.44 L431.07 175.66 L431.60 174.82 L432.14 173.85 L432.67 172.80 L433.21 171.68 L433.74 170.52 L434.27 169.30 L434.81 168.00 L435.34 166.66 L435.88 165.28 L436.41 163.89 L436.94 162.49 L437.48 161.03 L438.01 159.48 L438.55 157.79 L439.08 155.92 L439.61 153.86 L440.15 151.68 L440.68 149.44 L441.22 147.20 L441.75 144.96 L442.28 142.68 L442.82 140.34 L443.35 137.93 L443.89 135.44 L444.42 132.80 L444.95 130.09 L445.49 127.41 L446.02 124.86 L446.56 122.42 L447.09 120.06 L447.62 117.71 L448.16 115.36 L448.69 112.97 L449.23 110.56 L449.76 108.15 L450.29 105.76 L450.83 103.41 L451.36 101.09 L451.90 98.74 L452.43 96.42 L452.96 94.19 L453.50 92.12 L454.03 90.28 L454.57 88.51 L455.10 86.81 L455.63 85.17 L456.17 83.60 L456.70 82.11 L457.24 80.71 L457.77 79.40 L458.30 78.20 L458.84 77.10 L459.37 76.07 L459.91 75.01 L460.44 73.97 L460.97 72.97 L461.51 72.08 L462.04 71.32 L462.58 70.75 L463.11 70.40 L463.64 70.31 L464.18 70.54 L464.71 71.03 L465.25 71.75 L465.78 72.65 L466.31 73.68 L466.85 74.79 L467.38 75.94 L467.92 77.09 L468.45 78.40 L468.98 79.92 L469.52 81.62 L470.05 83.44 L470.59 85.33 L471.12 87.26 L471.65 89.17 L472.19 91.06 L472.72 92.97 L473.26 94.93 L473.79 96.94 L474.32 99.02 L474.86 101.19 L475.39 103.46 L475.93 105.86 L476.46 108.52 L476.99 111.33 L477.53 114.12 L478.06 116.89 L478.60 119.70 L479.13 122.52 L479.66 125.35 L480.20 128.19 L480.73 131.03 L481.27 133.86 L481.80 136.67 L482.33 139.46 L482.87 142.24 L483.40 145.00 L483.94 147.75 L484.47 150.50 L485.00 153.27 L485.54 156.04 L486.07 158.80 L486.61 161.49 L487.14 164.09 L487.67 166.60 L488.21 169.05 L488.74 171.46 L489.28 173.87 L489.81 176.30 L490.34 178.81 L490.88 181.34 L491.41 183.78 L491.95 186.03 L492.48 188.01 L493.01 189.81 L493.55 191.48 L494.08 193.07 L494.62 194.61 L495.15 196.15 L495.68 197.73 L496.22 199.38 L496.75 201.07 L497.29 202.76 L497.82 204.40 L498.35 205.97 L498.89 207.54 L499.42 209.08 L499.96 210.51 L500.49 211.72 L501.02 212.70 L501.56 213.61 L502.09 214.45 L502.63 215.24 L503.16 215.96 L503.69 216.63 L504.23 217.25 L504.76 217.82 L505.30 218.36 L505.83 218.86 L506.36 219.33 L506.90 219.77 L507.43 220.19 L507.97 220.58 L508.50 220.95 L509.03 221.30 L509.57 221.63 L510.10 221.95 L510.64 222.25 L511.17 222.52 L511.70 222.78 L512.24 223.03 L512.77 223.28 L513.31 223.53 L513.84 223.78 L514.37 224.05 L514.91 224.34 L515.44 224.62 L515.98 224.90 L516.51 225.19 L517.04 225.49 L517.58 225.79 L518.11 226.11 L518.65 226.45 L519.18 226.81 L519.71 227.20 L520.25 227.64 L520.78 228.11 L521.32 228.61 L521.85 229.13 L522.38 229.67 L522.92 230.21 L523.45 230.75 L523.99 231.29 L524.52 231.85 L525.05 232.43 L525.59 233.02 L526.12 233.61 L526.66 234.21 L527.19 234.81 L527.72 235.40 L528.26 235.97 L528.79 236.52 L529.33 237.05 L529.86 237.58 L530.39 238.10 L530.93 238.61 L531.46 239.12 L532.00 239.62 L532.53 240.11 L533.06 240.60 L533.60 241.08 L534.13 241.55 L534.67 242.02 L535.20 242.48 L535.73 242.95 L536.27 243.42 L536.80 243.88 L537.34 244.34 L537.87 244.78 L538.40 245.20 L538.94 245.59 L539.47 245.94 L540.01 246.27 L540.54 246.58 L541.07 246.89 L541.61 247.18 L542.14 247.45 L542.68 247.70 L543.21 247.93 L543.74 248.14 L544.28 248.32 L544.81 248.48 L545.35 248.64 L545.88 248.80 L546.41 248.94 L546.95 249.07 L547.48 249.17 L548.02 249.24 L548.55 249.27 L549.08 249.26 L549.62 249.23 L550.15 249.16 L550.69 249.07 L551.22 248.97 L551.75 248.84 L552.29 248.71 L552.82 248.56 L553.36 248.42 L553.89 248.25 L554.42 248.04 L554.96 247.78 L555.49 247.47 L556.03 247.14 L556.56 246.80 L557.09 246.44 L557.63 246.10 L558.16 245.76 L558.70 245.45 L559.23 245.13 L559.76 244.82 L560.30 244.51 L560.83 244.18 L561.37 243.83 L561.90 243.47 L562.43 243.08 L562.97 242.65 L563.50 242.20 L564.04 241.71 L564.57 241.20 L565.10 240.66 L565.64 240.09 L566.17 239.50 L566.71 238.89 L567.24 238.26 L567.77 237.62 L568.31 236.96 L568.84 236.29 L569.38 235.61 L569.91 234.92 L570.44 234.23 L570.98 233.53 L571.51 232.82 L572.05 232.11 L572.58 231.41 L573.11 230.70 L573.65 230.00 L574.18 229.30 L574.72 228.62 L575.25 227.94 L575.78 227.27 L576.32 226.59 L576.85 225.91 L577.39 225.23 L577.92 224.54 L578.45 223.85 L578.99 223.15 L579.52 222.45 L580.06 221.75 L580.59 221.05 L581.12 220.35 L581.66 219.66 L582.19 218.96 L582.73 218.26 L583.26 217.57 L583.79 216.87 L584.33 216.16 L584.86 215.45 L585.40 214.72 L585.93 214.00 L586.46 213.28 L587.00 212.56 L587.53 211.84 L588.07 211.14 L588.60 210.45 L589.13 209.77 L589.67 209.12 L590.20 208.48 L590.74 207.88 L591.27 207.29 L591.80 206.69 L592.34 206.10 L592.87 205.50 L593.41 204.90 L593.94 204.32 L594.47 203.75 L595.01 203.21 L595.54 202.69 L596.08 202.19 L596.61 201.73 L597.14 201.31 L597.68 200.94 L598.21 200.61 L598.75 200.33 L599.28 200.09 L599.81 199.86 L600.35 199.65 L600.88 199.45 L601.42 199.27 L601.95 199.09 L602.48 198.94 L603.02 198.79 L603.55 198.65 L604.09 198.52 L604.62 198.40 L605.15 198.28 L605.69 198.16 L606.22 198.05 L606.76 197.95 L607.29 197.89 L607.82 197.87 L608.36 197.90 L608.89 197.96 L609.43 198.06 L609.96 198.20 L610.49 198.36 L611.03 198.55 L611.56 198.75 L612.10 198.97 L612.63 199.20 L613.16 199.44 L613.70 199.68 L614.23 199.94 L614.77 200.25 L615.30 200.62 L615.83 201.02 L616.37 201.46 L616.90 201.93 L617.44 202.41 L617.97 202.90 L618.50 203.39 L619.04 203.90 L619.57 204.44 L620.11 205.01 L620.64 205.61 L621.17 206.22 L621.71 206.84 L622.24 207.47 L622.78 208.11 L623.31 208.74 L623.84 209.37 L624.38 210.00 L624.91 210.64 L625.45 211.29 L625.98 211.95 L626.51 212.63 L627.05 213.35 L627.58 214.09 L628.12 214.88 L628.65 215.71 L629.18 216.58 L629.72 217.50 L630.25 218.44 L630.79 219.42 L631.32 220.42 L631.85 221.43 L632.39 222.46 L632.92 223.50 L633.46 224.54 L633.99 225.59 L634.52 226.69 L635.06 227.81 L635.59 228.94 L636.13 230.07 L636.66 231.19 L637.19 232.29 L637.73 233.37 L638.26 234.45 L638.80 235.52 L639.33 236.59 L639.86 237.66 L640.40 238.73 L640.93 239.80 L641.47 240.87 L642.00 241.93 L642.53 242.99 L643.07 244.04 L643.60 245.08 L644.14 246.11 L644.67 247.13 L645.20 248.15 L645.74 249.17 L646.27 250.17 L646.81 251.14 L647.34 252.07 L647.87 252.94 L648.41 253.76 L648.94 254.56 L649.48 255.32 L650.01 256.05 L650.54 256.76 L651.08 257.45 L651.61 258.12 L652.15 258.77 L652.68 259.40 L653.21 260.01 L653.75 260.57 L654.28 261.10 L654.82 261.60 L655.35 262.08 L655.88 262.54 L656.42 262.98 L656.95 263.40 L657.49 263.81 L658.02 264.20 L658.55 264.57 L659.09 264.92 L659.62 265.26 L660.16 265.60 L660.69 265.92 L661.22 266.24 L661.76 266.54 L662.29 266.83 L662.83 267.10 L663.36 267.35 L663.89 267.58 L664.43 267.79 L664.96 267.99 L665.50 268.20 L666.03 268.40 L666.56 268.60 L667.10 268.79 L667.63 268.96 L668.17 269.10 L668.70 269.22 L669.23 269.32 L669.77 269.37 L670.30 269.39 L670.84 269.41 L671.37 269.43 L671.90 269.44 L672.44 269.46 L672.97 269.47 L673.51 269.49 L674.04 269.50 L674.57 269.51 L675.11 269.52 L675.64 269.53 L676.18 269.54 L676.71 269.55 L677.24 269.56 L677.78 269.57 L678.31 269.57 L678.85 269.58 L679.38 269.59 L679.91 269.59 L680.45 269.60 L680.98 269.60 L681.52 269.61 L682.05 269.61 L682.58 269.61 L683.12 269.61 L683.65 269.62 L684.19 269.62 L684.72 269.62 L685.25 269.62 L685.79 269.62 L686.32 269.62 L686.86 269.62 L687.39 269.62 L687.92 269.62 L688.46 269.62 L688.99 269.62 L689.53 269.63 L690.06 269.63 L690.59 269.63 L691.13 269.63 L691.66 269.63 L692.20 269.63 L692.73 269.63 L693.26 269.63 L693.80 269.63 L694.33 269.63 L694.87 269.63 L695.40 269.63 L695.93 269.63 L696.47 269.63 L697.00 269.64 L697.54 269.64 L698.07 269.64 L698.60 269.64 L699.14 269.64 L699.67 269.64 L700.21 269.64 L700.74 269.64 L701.27 269.64 L701.81 269.64 L702.34 269.64 L702.88 269.64 L703.41 269.64 L703.94 269.64 L704.48 269.64 L705.01 269.64 L705.55 269.64 L706.08 269.65 L706.61 269.65 L707.15 269.65 L707.68 269.65 L708.22 269.65 L708.75 269.65 L709.28 269.65 L709.82 269.65 L710.35 269.65 L710.89 269.65 L711.42 269.65 L711.95 269.65 L712.49 269.65 L713.02 269.65 L713.56 269.65 L714.09 269.65 L714.62 269.65 L715.16 269.65 L715.69 269.65 L716.23 269.65 L716.76 269.65 L717.29 269.65 L717.83 269.66 L718.36 269.66 L718.90 269.66 L719.43 269.66 L719.96 269.66 L720.50 269.66 L721.03 269.66 L721.57 269.66 L722.10 269.66 L722.63 269.66 L723.17 269.66 L723.70 269.66 L724.24 269.66 L724.77 269.66 L725.30 269.66 L725.84 269.66 L726.37 269.66 L726.91 269.66 L727.44 269.66 L727.97 269.66 L728.51 269.66 L729.04 269.66 L729.58 269.66 L730.11 269.66 L730.64 269.66 L731.18 269.66 L731.71 269.66 L732.25 269.66 L732.78 269.66 L733.31 269.66 L733.85 269.66 L734.38 269.66 L734.92 269.66 L735.45 269.67 L735.98 269.67 L736.52 269.67 L737.05 269.67 L737.59 269.67 L738.12 269.67 L738.65 269.67 L739.19 269.67 L739.72 269.67 L740.26 269.67 L740.79 269.67 L741.32 269.67 L741.86 269.67 L742.39 269.67 L742.93 269.67 L743.46 269.67 L743.99 269.67 L744.53 269.67 L745.06 269.67 L745.60 269.67 L746.13 269.67 L746.66 269.67 L747.20 269.67 L747.73 269.67 L748.27 269.67 L748.80 269.67 L749.33 269.67 L749.87 269.67 L750.40 269.67 L750.94 269.67 L751.47 269.67 L752.00 269.67 L752.54 269.67 L753.07 269.67 L753.61 269.67 L754.14 269.67 L754.67 269.67 L755.21 269.67 L755.74 269.67 L756.28 269.67 L756.81 269.67 L757.34 269.67 L757.88 269.67 L758.41 269.67 L758.95 269.67 L759.48 269.67 L760.01 269.67 L760.55 269.67 L761.08 269.67 L761.62 269.67 L762.15 269.67 L762.68 269.67 L763.22 269.67 L763.75 269.67 L764.29 269.67 L764.82 269.67 L765.35 269.67 L765.89 269.67 L766.42 269.67 L766.96 269.67 L767.49 269.67 L768.02 269.67 L768.56 269.67 L769.09 269.67 L769.63 269.67 L770.16 269.67 L770.69 269.67 L771.23 269.67" stroke="#7c9c14"/>
<path d="M428.40 165.94 L428.93 165.09 L429.47 164.30 L430.00 163.57 L430.54 162.91 L431.07 162.30 L431.60 161.65 L432.14 160.89 L432.67 160.06 L433.21 159.16 L433.74 158.22 L434.27 157.20 L434.81 156.10 L435.34 154.92 L435.88 153.68 L436.41 152.40 L436.94 151.09 L437.48 149.69 L438.01 148.15 L438.55 146.45 L439.08 144.50 L439.61 142.34 L440.15 140.01 L440.68 137.61 L441.22 135.19 L441.75 132.75 L442.28 130.26 L442.82 127.70 L443.35 125.05 L443.89 122.31 L444.42 119.39 L444.95 116.40 L445.49 113.44 L446.02 110.62 L446.56 107.93 L447.09 105.31 L447.62 102.72 L448.16 100.12 L448.69 97.48 L449.23 94.81 L449.76 92.15 L450.29 89.50 L450.83 86.91 L451.36 84.35 L451.90 81.76 L452.43 79.20 L452.96 76.74 L453.50 74.46 L454.03 72.42 L454.57 70.48 L455.10 68.60 L455.63 66.79 L456.17 65.06 L456.70 63.42 L457.24 61.87 L457.77 60.43 L458.30 59.10 L458.84 57.90 L459.37 56.77 L459.91 55.60 L460.44 54.45 L460.97 53.35 L461.51 52.36 L462.04 51.52 L462.58 50.89 L463.11 50.50 L463.64 50.40 L464.18 50.65 L464.71 51.20 L465.25 52.00 L465.78 53.00 L466.31 54.14 L466.85 55.38 L467.38 56.65 L467.92 57.91 L468.45 59.35 L468.98 61.02 L469.52 62.89 L470.05 64.90 L470.59 66.99 L471.12 69.11 L471.65 71.21 L472.19 73.28 L472.72 75.38 L473.26 77.52 L473.79 79.72 L474.32 82.01 L474.86 84.38 L475.39 86.87 L475.93 89.50 L476.46 92.42 L476.99 95.50 L477.53 98.57 L478.06 101.62 L478.60 104.71 L479.13 107.81 L479.66 110.93 L480.20 114.05 L480.73 117.17 L481.27 120.28 L481.80 123.37 L482.33 126.44 L482.87 129.48 L483.40 132.51 L483.94 135.53 L484.47 138.55 L485.00 141.59 L485.54 144.64 L486.07 147.67 L486.61 150.63 L487.14 153.48 L487.67 156.24 L488.21 158.93 L488.74 161.58 L489.28 164.22 L489.81 166.89 L490.34 169.67 L490.88 172.45 L491.41 175.15 L491.95 177.63 L492.48 179.81 L493.01 181.79 L493.55 183.63 L494.08 185.37 L494.62 187.07 L495.15 188.76 L495.68 190.50 L496.22 192.31 L496.75 194.17 L497.29 196.03 L497.82 197.84 L498.35 199.57 L498.89 201.29 L499.42 202.99 L499.96 204.56 L500.49 205.90 L501.02 206.98 L501.56 207.99 L502.09 208.91 L502.63 209.77 L503.16 210.57 L503.69 211.31 L504.23 211.99 L504.76 212.62 L505.30 213.22 L505.83 213.77 L506.36 214.28 L506.90 214.77 L507.43 215.22 L507.97 215.65 L508.50 216.05 L509.03 216.44 L509.57 216.81 L510.10 217.16 L510.64 217.48 L511.17 217.78 L511.70 218.07 L512.24 218.34 L512.77 218.61 L513.31 218.88 L513.84 219.16 L514.37 219.45 L514.91 219.77 L515.44 220.08 L515.98 220.39 L516.51 220.70 L517.04 221.03 L517.58 221.37 L518.11 221.72 L518.65 222.09 L519.18 222.49 L519.71 222.92 L520.25 223.40 L520.78 223.92 L521.32 224.48 L521.85 225.05 L522.38 225.65 L522.92 226.25 L523.45 226.85 L523.99 227.44 L524.52 228.06 L525.05 228.70 L525.59 229.35 L526.12 230.01 L526.66 230.67 L527.19 231.33 L527.72 231.98 L528.26 232.60 L528.79 233.21 L529.33 233.80 L529.86 234.38 L530.39 234.95 L530.93 235.51 L531.46 236.07 L532.00 236.62 L532.53 237.16 L533.06 237.70 L533.60 238.22 L534.13 238.75 L534.67 239.26 L535.20 239.77 L535.73 240.28 L536.27 240.80 L536.80 241.32 L537.34 241.82 L537.87 242.31 L538.40 242.77 L538.94 243.20 L539.47 243.59 L540.01 243.95 L540.54 244.30 L541.07 244.63 L541.61 244.95 L542.14 245.26 L542.68 245.53 L543.21 245.79 L543.74 246.01 L544.28 246.21 L544.81 246.39 L545.35 246.57 L545.88 246.74 L546.41 246.91 L546.95 247.05 L547.48 247.16 L548.02 247.23 L548.55 247.27 L549.08 247.26 L549.62 247.22 L550.15 247.14 L550.69 247.04 L551.22 246.92 L551.75 246.79 L552.29 246.63 L552.82 246.47 L553.36 246.31 L553.89 246.12 L554.42 245.88 L554.96 245.59 L555.49 245.25 L556.03 244.88 L556.56 244.49 L557.09 244.10 L557.63 243.71 L558.16 243.34 L558.70 242.98 L559.23 242.64 L559.76 242.29 L560.30 241.94 L560.83 241.57 L561.37 241.19 L561.90 240.78 L562.43 240.35 L562.97 239.89 L563.50 239.39 L564.04 238.86 L564.57 238.29 L565.10 237.70 L565.64 237.07 L566.17 236.43 L566.71 235.76 L567.24 235.07 L567.77 234.36 L568.31 233.63 L568.84 232.90 L569.38 232.14 L569.91 231.38 L570.44 230.61 L570.98 229.84 L571.51 229.06 L572.05 228.28 L572.58 227.49 L573.11 226.71 L573.65 225.94 L574.18 225.17 L574.72 224.40 L575.25 223.65 L575.78 222.91 L576.32 222.16 L576.85 221.40 L577.39 220.64 L577.92 219.88 L578.45 219.10 L578.99 218.33 L579.52 217.55 L580.06 216.77 L580.59 215.99 L581.12 215.21 L581.66 214.42 L582.19 213.64 L582.73 212.86 L583.26 212.08 L583.79 211.30 L584.33 210.50 L584.86 209.70 L585.40 208.88 L585.93 208.07 L586.46 207.25 L587.00 206.43 L587.53 205.63 L588.07 204.83 L588.60 204.05 L589.13 203.28 L589.67 202.54 L590.20 201.82 L590.74 201.12 L591.27 200.45 L591.80 199.77 L592.34 199.09 L592.87 198.40 L593.41 197.72 L593.94 197.05 L594.47 196.40 L595.01 195.77 L595.54 195.16 L596.08 194.59 L596.61 194.06 L597.14 193.57 L597.68 193.13 L598.21 192.75 L598.75 192.43 L599.28 192.14 L599.81 191.87 L600.35 191.61 L600.88 191.38 L601.42 191.16 L601.95 190.95 L602.48 190.76 L603.02 190.59 L603.55 190.42 L604.09 190.27 L604.62 190.13 L605.15 189.99 L605.69 189.85 L606.22 189.71 L606.76 189.60 L607.29 189.53 L607.82 189.50 L608.36 189.53 L608.89 189.60 L609.43 189.72 L609.96 189.87 L610.49 190.06 L611.03 190.27 L611.56 190.51 L612.10 190.76 L612.63 191.03 L613.16 191.30 L613.70 191.58 L614.23 191.88 L614.77 192.25 L615.30 192.67 L615.83 193.14 L616.37 193.65 L616.90 194.18 L617.44 194.74 L617.97 195.31 L618.50 195.87 L619.04 196.46 L619.57 197.08 L620.11 197.73 L620.64 198.40 L621.17 199.10 L621.71 199.81 L622.24 200.53 L622.78 201.25 L623.31 201.97 L623.84 202.69 L624.38 203.40 L624.91 204.12 L625.45 204.85 L625.98 205.60 L626.51 206.38 L627.05 207.18 L627.58 208.02 L628.12 208.90 L628.65 209.83 L629.18 210.82 L629.72 211.84 L630.25 212.90 L630.79 213.98 L631.32 215.10 L631.85 216.23 L632.39 217.38 L632.92 218.53 L633.46 219.69 L633.99 220.86 L634.52 222.07 L635.06 223.31 L635.59 224.57 L636.13 225.83 L636.66 227.06 L637.19 228.27 L637.73 229.46 L638.26 230.65 L638.80 231.83 L639.33 233.00 L639.86 234.18 L640.40 235.35 L640.93 236.53 L641.47 237.70 L642.00 238.88 L642.53 240.04 L643.07 241.20 L643.60 242.35 L644.14 243.48 L644.67 244.61 L645.20 245.74 L645.74 246.87 L646.27 247.98 L646.81 249.06 L647.34 250.09 L647.87 251.06 L648.41 251.98 L648.94 252.86 L649.48 253.71 L650.01 254.52 L650.54 255.31 L651.08 256.07 L651.61 256.81 L652.15 257.54 L652.68 258.24 L653.21 258.91 L653.75 259.54 L654.28 260.13 L654.82 260.68 L655.35 261.21 L655.88 261.72 L656.42 262.22 L656.95 262.69 L657.49 263.14 L658.02 263.57 L658.55 263.98 L659.09 264.37 L659.62 264.75 L660.16 265.12 L660.69 265.48 L661.22 265.83 L661.76 266.17 L662.29 266.49 L662.83 266.79 L663.36 267.07 L663.89 267.33 L664.43 267.57 L664.96 267.79 L665.50 268.02 L666.03 268.25 L666.56 268.47 L667.10 268.68 L667.63 268.87 L668.17 269.03 L668.70 269.17 L669.23 269.27 L669.77 269.33 L670.30 269.35 L670.84 269.36 L671.37 269.38 L671.90 269.39 L672.44 269.40 L672.97 269.41 L673.51 269.42 L674.04 269.43 L674.57 269.44 L675.11 269.44 L675.64 269.45 L676.18 269.45 L676.71 269.46 L677.24 269.46 L677.78 269.47 L678.31 269.47 L678.85 269.47 L679.38 269.47 L679.91 269.47 L680.45 269.47 L680.98 269.47 L681.52 269.47 L682.05 269.47 L682.58 269.46 L683.12 269.46 L683.65 269.46 L684.19 269.45 L684.72 269.45 L685.25 269.44 L685.79 269.44 L686.32 269.43 L686.86 269.43 L687.39 269.42 L687.92 269.42 L688.46 269.41 L688.99 269.41 L689.53 269.41 L690.06 269.40 L690.59 269.40 L691.13 269.39 L691.66 269.39 L692.20 269.38 L692.73 269.38 L693.26 269.37 L693.80 269.37 L694.33 269.36 L694.87 269.36 L695.40 269.35 L695.93 269.35 L696.47 269.34 L697.00 269.34 L697.54 269.33 L698.07 269.33 L698.60 269.32 L699.14 269.32 L699.67 269.31 L700.21 269.31 L700.74 269.30 L701.27 269.30 L701.81 269.29 L702.34 269.29 L702.88 269.28 L703.41 269.28 L703.94 269.27 L704.48 269.27 L705.01 269.26 L705.55 269.26 L706.08 269.25 L706.61 269.25 L707.15 269.24 L707.68 269.24 L708.22 269.23 L708.75 269.23 L709.28 269.22 L709.82 269.22 L710.35 269.21 L710.89 269.21 L711.42 269.20 L711.95 269.20 L712.49 269.19 L713.02 269.19 L713.56 269.18 L714.09 269.18 L714.62 269.17 L715.16 269.17 L715.69 269.16 L716.23 269.15 L716.76 269.15 L717.29 269.14 L717.83 269.14 L718.36 269.13 L718.90 269.13 L719.43 269.12 L719.96 269.12 L720.50 269.11 L721.03 269.11 L721.57 269.10 L722.10 269.10 L722.63 269.09 L723.17 269.09 L723.70 269.08 L724.24 269.08 L724.77 269.07 L725.30 269.07 L725.84 269.06 L726.37 269.06 L726.91 269.05 L727.44 269.04 L727.97 269.04 L728.51 269.03 L729.04 269.03 L729.58 269.02 L730.11 269.02 L730.64 269.01 L731.18 269.01 L731.71 269.00 L732.25 269.00 L732.78 268.99 L733.31 268.99 L733.85 268.98 L734.38 268.98 L734.92 268.97 L735.45 268.96 L735.98 268.96 L736.52 268.95 L737.05 268.95 L737.59 268.94 L738.12 268.94 L738.65 268.93 L739.19 268.93 L739.72 268.92 L740.26 268.92 L740.79 268.91 L741.32 268.91 L741.86 268.90 L742.39 268.89 L742.93 268.89 L743.46 268.88 L743.99 268.88 L744.53 268.87 L745.06 268.87 L745.60 268.86 L746.13 268.86 L746.66 268.85 L747.20 268.85 L747.73 268.84 L748.27 268.83 L748.80 268.83 L749.33 268.82 L749.87 268.82 L750.40 268.81 L750.94 268.81 L751.47 268.80 L752.00 268.80 L752.54 268.79 L753.07 268.79 L753.61 268.78 L754.14 268.77 L754.67 268.77 L755.21 268.76 L755.74 268.76 L756.28 268.75 L756.81 268.75 L757.34 268.74 L757.88 268.74 L758.41 268.73 L758.95 268.72 L759.48 268.72 L760.01 268.71 L760.55 268.71 L761.08 268.70 L761.62 268.70 L762.15 268.69 L762.68 268.69 L763.22 268.68 L763.75 268.67 L764.29 268.67 L764.82 268.66 L765.35 268.66 L765.89 268.65 L766.42 268.65 L766.96 268.64 L767.49 268.64 L768.02 268.63 L768.56 268.62 L769.09 268.62 L769.63 268.61 L770.16 268.61 L770.69 268.61 L771.23 268.61" stroke="#fa4010"/>
<path d="M428.40 161.54 L428.93 160.56 L429.47 159.59 L430.00 158.62 L430.54 157.67 L431.07 156.73 L431.60 155.69 L432.14 154.51 L432.67 153.23 L433.21 151.85 L433.74 150.43 L434.27 148.93 L434.81 147.34 L435.34 145.69 L435.88 143.99 L436.41 142.29 L436.94 140.57 L437.48 138.78 L438.01 136.88 L438.55 134.81 L439.08 132.50 L439.61 129.96 L440.15 127.28 L440.68 124.52 L441.22 121.76 L441.75 119.00 L442.28 116.19 L442.82 113.31 L443.35 110.34 L443.89 107.27 L444.42 104.01 L444.95 100.67 L445.49 97.37 L446.02 94.23 L446.56 91.24 L447.09 88.33 L447.62 85.45 L448.16 82.56 L448.69 79.63 L449.23 76.67 L449.76 73.71 L450.29 70.78 L450.83 67.90 L451.36 65.07 L451.90 62.20 L452.43 59.35 L452.96 56.63 L453.50 54.11 L454.03 51.86 L454.57 49.71 L455.10 47.63 L455.63 45.62 L456.17 43.70 L456.70 41.88 L457.24 40.17 L457.77 38.57 L458.30 37.11 L458.84 35.78 L459.37 34.53 L459.91 33.24 L460.44 31.96 L460.97 30.75 L461.51 29.65 L462.04 28.71 L462.58 28.01 L463.11 27.57 L463.64 27.47 L464.18 27.74 L464.71 28.35 L465.25 29.25 L465.78 30.37 L466.31 31.64 L466.85 33.01 L467.38 34.42 L467.92 35.81 L468.45 37.40 L468.98 39.25 L469.52 41.32 L470.05 43.54 L470.59 45.85 L471.12 48.20 L471.65 50.52 L472.19 52.80 L472.72 55.11 L473.26 57.47 L473.79 59.89 L474.32 62.40 L474.86 65.02 L475.39 67.75 L475.93 70.65 L476.46 73.87 L476.99 77.27 L477.53 80.66 L478.06 84.03 L478.60 87.44 L479.13 90.87 L479.66 94.31 L480.20 97.76 L480.73 101.20 L481.27 104.64 L481.80 108.05 L482.33 111.43 L482.87 114.78 L483.40 118.13 L483.94 121.46 L484.47 124.79 L485.00 128.13 L485.54 131.50 L486.07 134.84 L486.61 138.11 L487.14 141.26 L487.67 144.30 L488.21 147.26 L488.74 150.19 L489.28 153.11 L489.81 156.06 L490.34 159.13 L490.88 162.22 L491.41 165.20 L491.95 167.95 L492.48 170.36 L493.01 172.55 L493.55 174.58 L494.08 176.50 L494.62 178.37 L495.15 180.24 L495.68 182.16 L496.22 184.16 L496.75 186.22 L497.29 188.27 L497.82 190.27 L498.35 192.18 L498.89 194.09 L499.42 195.98 L499.96 197.72 L500.49 199.20 L501.02 200.40 L501.56 201.50 L502.09 202.53 L502.63 203.48 L503.16 204.36 L503.69 205.18 L504.23 205.93 L504.76 206.63 L505.30 207.29 L505.83 207.90 L506.36 208.47 L506.90 209.00 L507.43 209.50 L507.97 209.97 L508.50 210.42 L509.03 210.84 L509.57 211.25 L510.10 211.64 L510.64 211.99 L511.17 212.32 L511.70 212.64 L512.24 212.93 L512.77 213.23 L513.31 213.53 L513.84 213.83 L514.37 214.16 L514.91 214.50 L515.44 214.84 L515.98 215.19 L516.51 215.53 L517.04 215.89 L517.58 216.27 L518.11 216.66 L518.65 217.07 L519.18 217.51 L519.71 217.99 L520.25 218.53 L520.78 219.10 L521.32 219.72 L521.85 220.36 L522.38 221.02 L522.92 221.69 L523.45 222.35 L523.99 223.01 L524.52 223.70 L525.05 224.41 L525.59 225.13 L526.12 225.86 L526.66 226.60 L527.19 227.32 L527.72 228.04 L528.26 228.73 L528.79 229.40 L529.33 230.05 L529.86 230.69 L530.39 231.32 L530.93 231.94 L531.46 232.56 L532.00 233.16 L532.53 233.76 L533.06 234.35 L533.60 234.94 L534.13 235.51 L534.67 236.08 L535.20 236.65 L535.73 237.22 L536.27 237.79 L536.80 238.36 L537.34 238.92 L537.87 239.46 L538.40 239.97 L538.94 240.45 L539.47 240.89 L540.01 241.28 L540.54 241.67 L541.07 242.04 L541.61 242.39 L542.14 242.73 L542.68 243.03 L543.21 243.32 L543.74 243.57 L544.28 243.78 L544.81 243.98 L545.35 244.18 L545.88 244.38 L546.41 244.56 L546.95 244.71 L547.48 244.84 L548.02 244.92 L548.55 244.96 L549.08 244.95 L549.62 244.90 L550.15 244.82 L550.69 244.71 L551.22 244.57 L551.75 244.42 L552.29 244.24 L552.82 244.06 L553.36 243.87 L553.89 243.67 L554.42 243.40 L554.96 243.07 L555.49 242.69 L556.03 242.28 L556.56 241.84 L557.09 241.40 L557.63 240.96 L558.16 240.55 L558.70 240.15 L559.23 239.76 L559.76 239.37 L560.30 238.97 L560.83 238.57 L561.37 238.14 L561.90 237.70 L562.43 237.22 L562.97 236.71 L563.50 236.16 L564.04 235.57 L564.57 234.95 L565.10 234.29 L565.64 233.61 L566.17 232.90 L566.71 232.16 L567.24 231.40 L567.77 230.62 L568.31 229.82 L568.84 229.00 L569.38 228.17 L569.91 227.33 L570.44 226.48 L570.98 225.62 L571.51 224.76 L572.05 223.89 L572.58 223.03 L573.11 222.17 L573.65 221.31 L574.18 220.45 L574.72 219.61 L575.25 218.78 L575.78 217.96 L576.32 217.13 L576.85 216.30 L577.39 215.46 L577.92 214.61 L578.45 213.76 L578.99 212.90 L579.52 212.04 L580.06 211.18 L580.59 210.31 L581.12 209.45 L581.66 208.58 L582.19 207.72 L582.73 206.86 L583.26 206.00 L583.79 205.13 L584.33 204.25 L584.86 203.36 L585.40 202.46 L585.93 201.56 L586.46 200.66 L587.00 199.76 L587.53 198.87 L588.07 197.99 L588.60 197.12 L589.13 196.28 L589.67 195.46 L590.20 194.66 L590.74 193.90 L591.27 193.15 L591.80 192.40 L592.34 191.65 L592.87 190.89 L593.41 190.14 L593.94 189.40 L594.47 188.67 L595.01 187.97 L595.54 187.31 L596.08 186.67 L596.61 186.09 L597.14 185.55 L597.68 185.06 L598.21 184.64 L598.75 184.29 L599.28 183.97 L599.81 183.68 L600.35 183.40 L600.88 183.14 L601.42 182.90 L601.95 182.68 L602.48 182.47 L603.02 182.28 L603.55 182.10 L604.09 181.94 L604.62 181.78 L605.15 181.62 L605.69 181.47 L606.22 181.32 L606.76 181.19 L607.29 181.11 L607.82 181.08 L608.36 181.11 L608.89 181.19 L609.43 181.31 L609.96 181.48 L610.49 181.68 L611.03 181.92 L611.56 182.18 L612.10 182.46 L612.63 182.75 L613.16 183.05 L613.70 183.36 L614.23 183.69 L614.77 184.09 L615.30 184.56 L615.83 185.08 L616.37 185.64 L616.90 186.24 L617.44 186.85 L617.97 187.47 L618.50 188.10 L619.04 188.74 L619.57 189.42 L620.11 190.14 L620.64 190.89 L621.17 191.65 L621.71 192.43 L622.24 193.22 L622.78 194.02 L623.31 194.81 L623.84 195.59 L624.38 196.38 L624.91 197.17 L625.45 197.97 L625.98 198.79 L626.51 199.64 L627.05 200.52 L627.58 201.45 L628.12 202.42 L628.65 203.44 L629.18 204.52 L629.72 205.65 L630.25 206.82 L630.79 208.02 L631.32 209.24 L631.85 210.49 L632.39 211.76 L632.92 213.03 L633.46 214.30 L633.99 215.59 L634.52 216.93 L635.06 218.30 L635.59 219.69 L636.13 221.07 L636.66 222.43 L637.19 223.76 L637.73 225.07 L638.26 226.37 L638.80 227.67 L639.33 228.96 L639.86 230.24 L640.40 231.53 L640.93 232.82 L641.47 234.11 L642.00 235.40 L642.53 236.69 L643.07 237.96 L643.60 239.23 L644.14 240.48 L644.67 241.73 L645.20 243.00 L645.74 244.25 L646.27 245.49 L646.81 246.69 L647.34 247.84 L647.87 248.91 L648.41 249.94 L648.94 250.92 L649.48 251.86 L650.01 252.77 L650.54 253.64 L651.08 254.49 L651.61 255.32 L652.15 256.13 L652.68 256.91 L653.21 257.66 L653.75 258.36 L654.28 259.01 L654.82 259.63 L655.35 260.22 L655.88 260.79 L656.42 261.34 L656.95 261.86 L657.49 262.37 L658.02 262.84 L658.55 263.30 L659.09 263.74 L659.62 264.16 L660.16 264.58 L660.69 264.98 L661.22 265.37 L661.76 265.75 L662.29 266.10 L662.83 266.44 L663.36 266.75 L663.89 267.04 L664.43 267.31 L664.96 267.56 L665.50 267.82 L666.03 268.07 L666.56 268.32 L667.10 268.55 L667.63 268.76 L668.17 268.95 L668.70 269.10 L669.23 269.21 L669.77 269.28 L670.30 269.31 L670.84 269.33 L671.37 269.35 L671.90 269.37 L672.44 269.39 L672.97 269.41 L673.51 269.43 L674.04 269.44 L674.57 269.46 L675.11 269.47 L675.64 269.48 L676.18 269.50 L676.71 269.51 L677.24 269.52 L677.78 269.53 L678.31 269.54 L678.85 269.54 L679.38 269.55 L679.91 269.56 L680.45 269.56 L680.98 269.57 L681.52 269.57 L682.05 269.58 L682.58 269.58 L683.12 269.58 L683.65 269.59 L684.19 269.59 L684.72 269.59 L685.25 269.59 L685.79 269.59 L686.32 269.59 L686.86 269.59 L687.39 269.59 L687.92 269.59 L688.46 269.60 L688.99 269.60 L689.53 269.60 L690.06 269.60 L690.59 269.60 L691.13 269.60 L691.66 269.60 L692.20 269.60 L692.73 269.60 L693.26 269.60 L693.80 269.60 L694.33 269.60 L694.87 269.60 L695.40 269.61 L695.93 269.61 L696.47 269.61 L697.00 269.61 L697.54 269.61 L698.07 269.61 L698.60 269.61 L699.14 269.61 L699.67 269.61 L700.21 269.61 L700.74 269.61 L701.27 269.61 L701.81 269.61 L702.34 269.61 L702.88 269.62 L703.41 269.62 L703.94 269.62 L704.48 269.62 L705.01 269.62 L705.55 269.62 L706.08 269.62 L706.61 269.62 L707.15 269.62 L707.68 269.62 L708.22 269.62 L708.75 269.62 L709.28 269.62 L709.82 269.62 L710.35 269.62 L710.89 269.62 L711.42 269.62 L711.95 269.62 L712.49 269.63 L713.02 269.63 L713.56 269.63 L714.09 269.63 L714.62 269.63 L715.16 269.63 L715.69 269.63 L716.23 269.63 L716.76 269.63 L717.29 269.63 L717.83 269.63 L718.36 269.63 L718.90 269.63 L719.43 269.63 L719.96 269.63 L720.50 269.63 L721.03 269.63 L721.57 269.63 L722.10 269.63 L722.63 269.63 L723.17 269.63 L723.70 269.63 L724.24 269.63 L724.77 269.63 L725.30 269.64 L725.84 269.64 L726.37 269.64 L726.91 269.64 L727.44 269.64 L727.97 269.64 L728.51 269.64 L729.04 269.64 L729.58 269.64 L730.11 269.64 L730.64 269.64 L731.18 269.64 L731.71 269.64 L732.25 269.64 L732.78 269.64 L733.31 269.64 L733.85 269.64 L734.38 269.64 L734.92 269.64 L735.45 269.64 L735.98 269.64 L736.52 269.64 L737.05 269.64 L737.59 269.64 L738.12 269.64 L738.65 269.64 L739.19 269.64 L739.72 269.64 L740.26 269.64 L740.79 269.64 L741.32 269.64 L741.86 269.64 L742.39 269.64 L742.93 269.64 L743.46 269.64 L743.99 269.64 L744.53 269.64 L745.06 269.64 L745.60 269.64 L746.13 269.64 L746.66 269.64 L747.20 269.65 L747.73 269.65 L748.27 269.65 L748.80 269.65 L749.33 269.65 L749.87 269.65 L750.40 269.65 L750.94 269.65 L751.47 269.65 L752.00 269.65 L752.54 269.65 L753.07 269.65 L753.61 269.65 L754.14 269.65 L754.67 269.65 L755.21 269.65 L755.74 269.65 L756.28 269.65 L756.81 269.65 L757.34 269.65 L757.88 269.65 L758.41 269.65 L758.95 269.65 L759.48 269.65 L760.01 269.65 L760.55 269.65 L761.08 269.65 L761.62 269.65 L762.15 269.65 L762.68 269.65 L763.22 269.65 L763.75 269.65 L764.29 269.65 L764.82 269.65 L765.35 269.65 L765.89 269.65 L766.42 269.65 L766.96 269.65 L767.49 269.65 L768.02 269.65 L768.56 269.65 L769.09 269.65 L769.63 269.65 L770.16 269.65 L770.69 269.65 L771.23 269.65" stroke="#5aaaf5"/>
</g>
<g stroke="#000" stroke-width="1.8">
<line x1="421" y1="264.50" x2="428" y2="264.50"/>
<line x1="421" y1="206.00" x2="428" y2="206.00"/>
<line x1="421" y1="147.50" x2="428" y2="147.50"/>
<line x1="421" y1="89.00" x2="428" y2="89.00"/>
<line x1="421" y1="30.50" x2="428" y2="30.50"/>
<line x1="425" y1="235.25" x2="428" y2="235.25"/>
<line x1="425" y1="176.75" x2="428" y2="176.75"/>
<line x1="425" y1="118.25" x2="428" y2="118.25"/>
<line x1="425" y1="59.75" x2="428" y2="59.75"/>
<line x1="425" y1="1.25" x2="428" y2="1.25"/>
<line x1="449.76" y1="276" x2="449.76" y2="281.5"/>
<line x1="556.56" y1="276" x2="556.56" y2="281.5"/>
<line x1="663.36" y1="276" x2="663.36" y2="281.5"/>
<line x1="770.16" y1="276" x2="770.16" y2="281.5"/>
<line x1="503.16" y1="276" x2="503.16" y2="279"/>
<line x1="609.96" y1="276" x2="609.96" y2="279"/>
<line x1="716.76" y1="276" x2="716.76" y2="279"/>
</g>
<rect x="428" y="0" width="343" height="1.7" fill="#737373"/>
<line x1="428.2" y1="0" x2="428.2" y2="277" stroke="#000" stroke-width="1.9"/>
<line x1="770.8" y1="0" x2="770.8" y2="277" stroke="#000" stroke-width="1.9"/>
<line x1="427.3" y1="276.2" x2="771.7" y2="276.2" stroke="#000" stroke-width="1.8"/>
<g font-family="'Liberation Sans', sans-serif" font-size="11.5" fill="#000" text-anchor="end">
<text x="416.5" y="267.80">0.0</text>
<text x="416.5" y="209.30">0.5</text>
<text x="416.5" y="150.80">1.0</text>
<text x="416.5" y="92.30">1.5</text>
<text x="416.5" y="33.80">2.0</text>
</g>
<g font-family="'Liberation Sans', sans-serif" font-size="12" fill="#000" text-anchor="middle">
<text x="449.76" y="295">200</text>
<text x="556.56" y="295">250</text>
<text x="663.36" y="295">300</text>
<text x="770.16" y="295">350</text>
</g>
<text x="438.5" y="20.9" font-family="'Liberation Serif', serif" font-size="15.4" font-weight="bold" fill="#000">(b)</text>
<text x="684.3" y="34" font-family="'Liberation Serif', serif" font-size="15.7" font-weight="bold" fill="#3050f0">Set 11</text>
<text x="689.5" y="163.6" font-family="'Liberation Serif', serif" font-size="15.7" font-weight="bold" fill="#000">Set 1</text>
<line x1="704.6" y1="146" x2="704.6" y2="50" stroke="#b22cf2" stroke-width="2"/>
<polygon points="704.6,40.8 701.2,52.5 708,52.5" fill="#b22cf2"/>
<text transform="translate(384.4,132.4) rotate(-90)" font-family="'Liberation Serif', serif" font-size="15.5" font-weight="bold" text-anchor="middle" fill="#000">Absorbance(a.u.)</text>
<text x="599.7" y="318.4" font-family="'Liberation Serif', serif" font-size="15.8" font-weight="bold" text-anchor="middle" fill="#000">Wavelength(nm)</text>
</svg>
</body></html>
